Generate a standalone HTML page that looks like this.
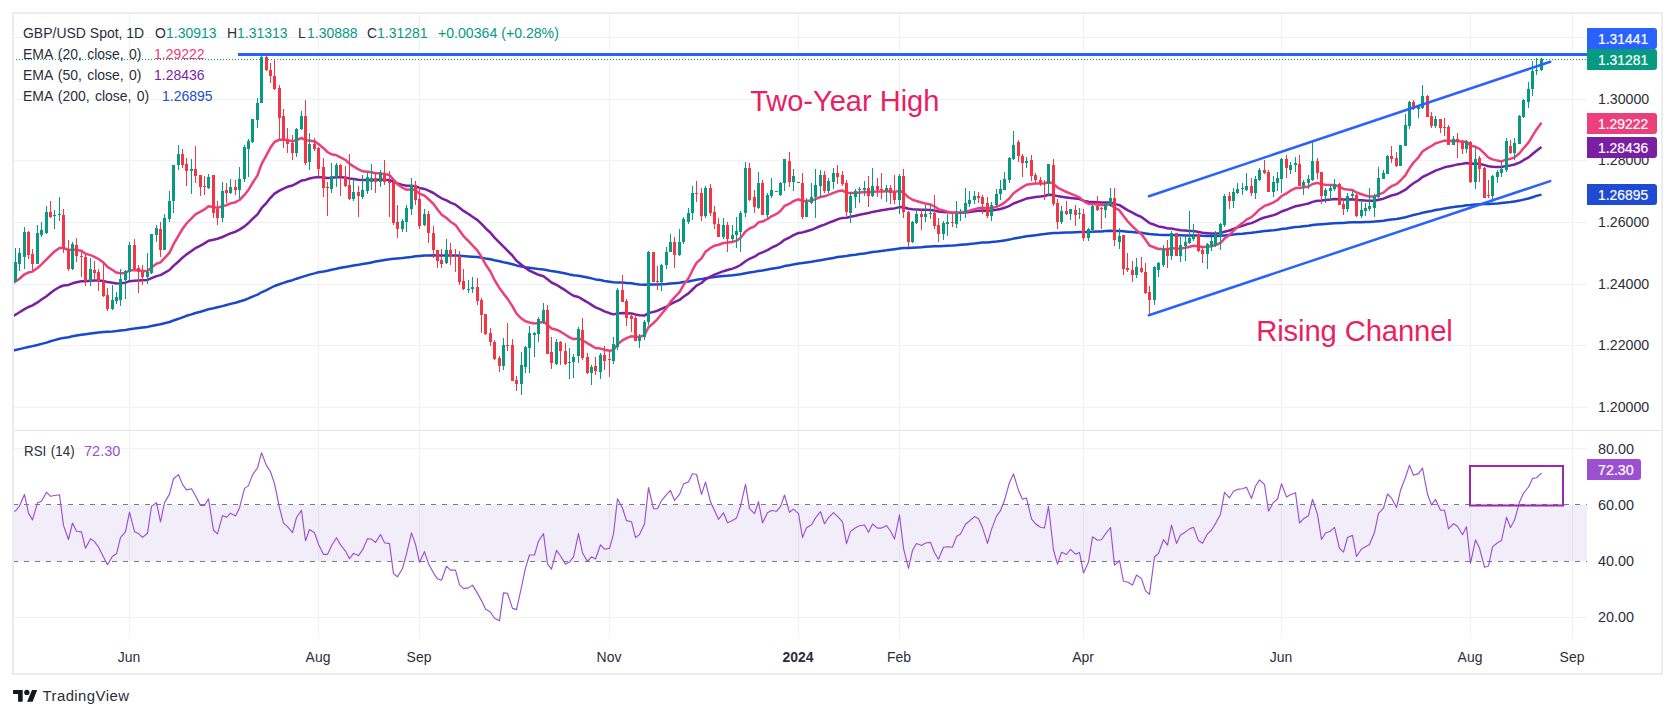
<!DOCTYPE html><html><head><meta charset="utf-8"><style>
html,body{margin:0;padding:0;background:#fff;width:1675px;height:718px;overflow:hidden;position:relative}
.t{position:absolute;white-space:pre;font-family:"Liberation Sans",sans-serif;line-height:1;color:#131722}
.lb{position:absolute;left:1587px;width:70px;height:21px;border-radius:0 3px 3px 0}
</style></head><body>
<svg width="1675" height="718" viewBox="0 0 1675 718" style="position:absolute;left:0;top:0">
<rect x="0" y="0" width="1675" height="718" fill="#ffffff"/>
<defs><clipPath id="cm"><rect x="13" y="13" width="1574" height="417"/></clipPath><clipPath id="cr"><rect x="13" y="431" width="1574" height="207"/></clipPath></defs>
<line x1="129.5" y1="13" x2="129.5" y2="638" stroke="#F0F2F2" stroke-width="1"/>
<line x1="318.5" y1="13" x2="318.5" y2="638" stroke="#F0F2F2" stroke-width="1"/>
<line x1="419.5" y1="13" x2="419.5" y2="638" stroke="#F0F2F2" stroke-width="1"/>
<line x1="609.5" y1="13" x2="609.5" y2="638" stroke="#F0F2F2" stroke-width="1"/>
<line x1="798.5" y1="13" x2="798.5" y2="638" stroke="#F0F2F2" stroke-width="1"/>
<line x1="899.5" y1="13" x2="899.5" y2="638" stroke="#F0F2F2" stroke-width="1"/>
<line x1="1083.5" y1="13" x2="1083.5" y2="638" stroke="#F0F2F2" stroke-width="1"/>
<line x1="1281.5" y1="13" x2="1281.5" y2="638" stroke="#F0F2F2" stroke-width="1"/>
<line x1="1470.5" y1="13" x2="1470.5" y2="638" stroke="#F0F2F2" stroke-width="1"/>
<line x1="1572.5" y1="13" x2="1572.5" y2="638" stroke="#F0F2F2" stroke-width="1"/>
<line x1="13" y1="37.5" x2="1587" y2="37.5" stroke="#F0F2F2" stroke-width="1"/>
<line x1="13" y1="99.5" x2="1587" y2="99.5" stroke="#F0F2F2" stroke-width="1"/>
<line x1="13" y1="160.5" x2="1587" y2="160.5" stroke="#F0F2F2" stroke-width="1"/>
<line x1="13" y1="222.5" x2="1587" y2="222.5" stroke="#F0F2F2" stroke-width="1"/>
<line x1="13" y1="284.5" x2="1587" y2="284.5" stroke="#F0F2F2" stroke-width="1"/>
<line x1="13" y1="345.5" x2="1587" y2="345.5" stroke="#F0F2F2" stroke-width="1"/>
<line x1="13" y1="407.5" x2="1587" y2="407.5" stroke="#F0F2F2" stroke-width="1"/>
<line x1="13" y1="448.5" x2="1587" y2="448.5" stroke="#F0F2F2" stroke-width="1"/>
<line x1="13" y1="617.5" x2="1587" y2="617.5" stroke="#F0F2F2" stroke-width="1"/>
<rect x="13" y="504.7" width="1574" height="56.3" fill="#7E57C2" fill-opacity="0.1"/>
<line x1="13" y1="504.5" x2="1587" y2="504.5" stroke="#787B86" stroke-width="1" stroke-dasharray="5 6"/>
<line x1="13" y1="561.5" x2="1587" y2="561.5" stroke="#787B86" stroke-width="1" stroke-dasharray="5 6"/>
<g clip-path="url(#cm)">
<polyline points="12.0,350.8 15.5,350.0 19.5,349.1 24.5,347.9 28.5,347.0 32.5,346.1 37.5,345.0 41.5,343.9 46.5,342.6 50.5,341.3 54.5,340.1 59.5,338.8 63.5,337.9 68.5,337.2 72.5,336.3 76.5,335.5 81.5,334.7 85.5,334.2 90.5,333.5 94.5,332.9 98.5,332.4 103.5,332.0 107.5,331.8 112.5,331.5 116.5,331.1 120.5,330.6 125.5,330.0 129.5,329.2 134.5,328.6 138.5,328.0 142.5,327.5 147.5,326.9 151.5,326.0 156.5,325.0 160.5,324.3 164.5,323.2 169.5,322.0 173.5,320.5 178.5,318.8 182.5,317.3 186.5,315.8 191.5,314.4 195.5,313.0 200.5,311.7 204.5,310.5 208.5,309.2 213.5,308.2 217.5,307.3 222.5,306.1 226.5,305.0 230.5,303.9 235.5,302.7 239.5,301.5 244.5,300.0 248.5,298.4 252.5,296.6 257.5,294.7 261.5,292.3 266.5,290.1 270.5,288.0 274.5,286.0 279.5,284.3 283.5,282.9 287.5,281.5 292.5,280.2 296.5,278.7 301.5,277.1 305.5,275.9 309.5,274.6 314.5,273.4 318.5,272.3 323.5,271.5 327.5,270.7 331.5,269.7 336.5,268.7 340.5,267.8 345.5,266.9 349.5,266.3 353.5,265.5 358.5,264.8 362.5,264.1 367.5,263.2 371.5,262.4 375.5,261.6 380.5,260.7 384.5,259.9 389.5,259.2 393.5,258.8 397.5,258.5 402.5,258.1 406.5,257.6 411.5,256.9 415.5,256.3 419.5,256.0 424.5,255.6 428.5,255.4 433.5,255.3 437.5,255.4 441.5,255.5 446.5,255.4 450.5,255.4 455.5,255.5 459.5,255.7 463.5,256.1 468.5,256.4 472.5,256.7 477.5,257.1 481.5,257.7 485.5,258.5 490.5,259.3 494.5,260.3 499.5,261.3 503.5,262.2 507.5,263.0 512.5,264.2 516.5,265.4 521.5,266.4 525.5,267.2 529.5,267.8 534.5,268.5 538.5,269.0 543.5,269.4 547.5,270.2 551.5,271.1 556.5,271.8 560.5,272.6 565.5,273.5 569.5,274.4 573.5,275.2 578.5,275.8 582.5,276.6 587.5,277.5 591.5,278.4 595.5,279.4 600.5,280.1 604.5,280.9 609.5,281.7 613.5,282.3 617.5,282.4 622.5,282.6 626.5,282.9 631.5,283.3 635.5,283.9 639.5,284.4 644.5,284.8 648.5,284.4 653.5,284.4 657.5,284.4 661.5,284.2 666.5,283.9 670.5,283.5 674.5,283.2 679.5,282.8 683.5,282.1 688.5,281.4 692.5,280.6 696.5,279.7 701.5,279.1 705.5,278.2 710.5,277.5 714.5,277.0 718.5,276.6 723.5,276.1 727.5,275.7 732.5,275.3 736.5,274.8 740.5,274.2 745.5,273.2 749.5,272.4 754.5,271.8 758.5,270.9 762.5,270.4 767.5,269.6 771.5,268.8 776.5,268.0 780.5,267.2 784.5,266.1 789.5,265.3 793.5,264.4 798.5,263.6 802.5,263.1 806.5,262.5 811.5,261.8 815.5,261.1 820.5,260.2 824.5,259.5 828.5,258.8 833.5,257.9 837.5,257.1 842.5,256.4 846.5,255.9 850.5,255.3 855.5,254.7 859.5,254.0 864.5,253.4 868.5,252.8 872.5,252.1 877.5,251.5 881.5,250.9 886.5,250.3 890.5,249.7 894.5,249.2 899.5,248.5 903.5,248.1 908.5,248.1 912.5,247.8 916.5,247.5 921.5,247.2 925.5,246.8 930.5,246.5 934.5,246.3 938.5,246.2 943.5,245.9 947.5,245.7 952.5,245.5 956.5,245.2 960.5,244.8 965.5,244.4 969.5,244.0 974.5,243.5 978.5,243.0 982.5,242.6 987.5,242.4 991.5,242.0 996.5,241.5 1000.5,241.0 1004.5,240.4 1009.5,239.6 1013.5,238.6 1018.5,237.8 1022.5,237.1 1026.5,236.3 1031.5,235.7 1035.5,235.2 1040.5,234.6 1044.5,234.1 1048.5,233.4 1053.5,233.1 1057.5,233.0 1061.5,232.8 1066.5,232.6 1070.5,232.4 1075.5,232.2 1079.5,232.0 1083.5,232.1 1088.5,232.1 1092.5,231.8 1097.5,231.6 1101.5,231.4 1105.5,231.1 1110.5,230.8 1114.5,230.9 1119.5,230.9 1123.5,231.3 1127.5,231.7 1132.5,232.1 1136.5,232.5 1141.5,232.8 1145.5,233.4 1149.5,234.1 1154.5,234.4 1158.5,234.7 1163.5,234.9 1167.5,235.1 1171.5,235.0 1176.5,235.2 1180.5,235.3 1185.5,235.4 1189.5,235.4 1193.5,235.4 1198.5,235.6 1202.5,235.8 1207.5,235.9 1211.5,235.9 1215.5,235.9 1220.5,235.8 1224.5,235.4 1229.5,235.0 1233.5,234.6 1237.5,234.1 1242.5,233.7 1246.5,233.2 1251.5,232.8 1255.5,232.3 1259.5,231.7 1264.5,231.1 1268.5,230.7 1273.5,230.2 1277.5,229.7 1281.5,229.0 1286.5,228.4 1290.5,227.7 1295.5,227.1 1299.5,226.7 1303.5,226.2 1308.5,225.8 1312.5,225.1 1317.5,224.6 1321.5,224.3 1325.5,224.0 1330.5,223.6 1334.5,223.2 1339.5,223.0 1343.5,222.9 1347.5,222.6 1352.5,222.3 1356.5,222.3 1361.5,222.2 1365.5,222.0 1369.5,221.9 1374.5,221.6 1378.5,221.2 1383.5,220.7 1387.5,220.0 1391.5,219.4 1396.5,218.9 1400.5,218.2 1405.5,217.2 1409.5,216.1 1413.5,215.0 1418.5,213.9 1422.5,212.8 1427.5,211.8 1431.5,211.0 1435.5,210.0 1440.5,209.2 1444.5,208.4 1448.5,207.8 1453.5,207.1 1457.5,206.4 1462.5,205.9 1466.5,205.2 1470.5,205.0 1475.5,204.5 1479.5,204.2 1484.5,204.1 1488.5,204.1 1492.5,203.8 1497.5,203.5 1501.5,203.1 1506.5,202.5 1510.5,202.0 1514.5,201.4 1519.5,200.6 1523.5,199.6 1528.5,198.5 1532.5,197.2 1536.5,195.9 1541.5,194.6" fill="none" stroke="#1848CC" stroke-width="2.5" stroke-linejoin="round"/>
<polyline points="12.0,316.6 15.5,314.7 19.5,312.2 24.5,309.1 28.5,307.0 32.5,305.3 37.5,302.4 41.5,299.6 46.5,296.2 50.5,293.1 54.5,290.0 59.5,287.0 63.5,285.5 68.5,284.9 72.5,283.3 76.5,282.2 81.5,281.2 85.5,281.2 90.5,280.7 94.5,280.4 98.5,280.4 103.5,281.0 107.5,282.1 112.5,282.8 116.5,283.4 120.5,283.2 125.5,282.7 129.5,281.2 134.5,280.7 138.5,280.4 142.5,280.2 147.5,279.9 151.5,278.1 156.5,276.1 160.5,275.1 164.5,272.9 169.5,270.0 173.5,265.9 178.5,261.5 182.5,257.7 186.5,254.4 191.5,251.0 195.5,248.1 200.5,245.7 204.5,243.4 208.5,240.8 213.5,239.7 217.5,238.8 222.5,237.0 226.5,235.2 230.5,233.4 235.5,231.7 239.5,229.6 244.5,226.4 248.5,223.0 252.5,218.9 257.5,214.4 261.5,208.2 266.5,202.8 270.5,197.8 274.5,193.6 279.5,190.6 283.5,188.6 287.5,186.8 292.5,185.5 296.5,183.3 301.5,180.6 305.5,179.9 309.5,178.5 314.5,177.4 318.5,177.1 323.5,177.5 327.5,177.9 331.5,177.8 336.5,177.3 340.5,177.3 345.5,177.6 349.5,178.4 353.5,179.0 358.5,179.7 362.5,180.0 367.5,179.9 371.5,179.8 375.5,179.9 380.5,179.6 384.5,179.8 389.5,179.9 393.5,181.6 397.5,183.4 402.5,184.9 406.5,185.8 411.5,185.8 415.5,186.3 419.5,187.9 424.5,188.9 428.5,190.6 433.5,193.0 437.5,195.7 441.5,198.3 446.5,200.4 450.5,202.6 455.5,204.7 459.5,207.7 463.5,210.9 468.5,214.0 472.5,216.8 477.5,220.1 481.5,223.9 485.5,228.2 490.5,232.7 494.5,237.6 499.5,242.6 503.5,246.7 507.5,250.6 512.5,255.7 516.5,260.7 521.5,264.8 525.5,268.0 529.5,270.6 534.5,273.0 538.5,274.8 543.5,276.2 547.5,279.2 551.5,282.5 556.5,284.8 560.5,287.4 565.5,290.4 569.5,293.2 573.5,295.7 578.5,297.0 582.5,299.4 587.5,302.3 591.5,304.9 595.5,307.4 600.5,309.3 604.5,311.3 609.5,313.2 613.5,314.4 617.5,313.5 622.5,313.0 626.5,313.2 631.5,313.4 635.5,314.5 639.5,315.3 644.5,315.6 648.5,313.1 653.5,311.9 657.5,310.7 661.5,308.9 666.5,306.7 670.5,304.2 674.5,302.2 679.5,299.9 683.5,296.7 688.5,293.4 692.5,289.5 696.5,285.7 701.5,283.0 705.5,279.3 710.5,276.7 714.5,274.6 718.5,273.1 723.5,271.2 727.5,270.0 732.5,268.6 736.5,267.1 740.5,265.0 745.5,261.2 749.5,258.8 754.5,256.7 758.5,253.9 762.5,252.3 767.5,250.1 771.5,247.7 776.5,245.5 780.5,243.0 784.5,239.8 789.5,237.5 793.5,235.1 798.5,233.0 802.5,232.4 806.5,231.2 811.5,229.8 815.5,228.1 820.5,226.0 824.5,224.6 828.5,222.9 833.5,221.0 837.5,219.3 842.5,217.9 846.5,217.7 850.5,216.8 855.5,215.8 859.5,214.7 864.5,213.7 868.5,213.0 872.5,211.9 877.5,211.1 881.5,210.3 886.5,209.4 890.5,208.7 894.5,208.4 899.5,207.1 903.5,207.3 908.5,208.7 912.5,209.2 916.5,209.4 921.5,209.7 925.5,209.8 930.5,210.0 934.5,210.6 938.5,211.5 943.5,211.9 947.5,212.3 952.5,212.8 956.5,212.8 960.5,212.8 965.5,212.4 969.5,211.9 974.5,211.3 978.5,210.7 982.5,210.5 987.5,210.7 991.5,210.4 996.5,209.8 1000.5,209.0 1004.5,207.8 1009.5,205.8 1013.5,203.5 1018.5,201.6 1022.5,200.1 1026.5,198.6 1031.5,197.7 1035.5,197.0 1040.5,196.5 1044.5,196.0 1048.5,194.7 1053.5,195.1 1057.5,196.1 1061.5,196.7 1066.5,197.4 1070.5,197.9 1075.5,198.5 1079.5,199.1 1083.5,200.6 1088.5,201.8 1092.5,201.9 1097.5,202.2 1101.5,202.5 1105.5,202.6 1110.5,202.4 1114.5,203.9 1119.5,205.1 1123.5,207.6 1127.5,210.1 1132.5,212.6 1136.5,214.8 1141.5,217.0 1145.5,220.0 1149.5,223.1 1154.5,224.8 1158.5,226.4 1163.5,227.2 1167.5,228.4 1171.5,228.5 1176.5,229.6 1180.5,230.2 1185.5,230.6 1189.5,230.9 1193.5,231.1 1198.5,231.9 1202.5,232.8 1207.5,233.2 1211.5,233.5 1215.5,233.5 1220.5,233.2 1224.5,231.7 1229.5,230.5 1233.5,229.0 1237.5,227.4 1242.5,225.8 1246.5,224.3 1251.5,223.1 1255.5,221.3 1259.5,219.3 1264.5,217.5 1268.5,216.5 1273.5,215.1 1277.5,213.7 1281.5,211.5 1286.5,209.8 1290.5,208.1 1295.5,206.3 1299.5,205.5 1303.5,204.6 1308.5,203.5 1312.5,201.9 1317.5,200.7 1321.5,200.5 1325.5,200.1 1330.5,199.6 1334.5,199.0 1339.5,199.3 1343.5,199.6 1347.5,199.5 1352.5,199.3 1356.5,200.0 1361.5,200.3 1365.5,200.6 1369.5,200.8 1374.5,200.7 1378.5,199.8 1383.5,198.7 1387.5,197.0 1391.5,195.5 1396.5,194.3 1400.5,192.4 1405.5,189.7 1409.5,186.3 1413.5,183.3 1418.5,180.3 1422.5,177.0 1427.5,174.6 1431.5,172.7 1435.5,170.6 1440.5,168.9 1444.5,167.3 1448.5,166.4 1453.5,165.4 1457.5,164.4 1462.5,163.8 1466.5,163.0 1470.5,163.7 1475.5,163.5 1479.5,163.8 1484.5,165.1 1488.5,166.3 1492.5,166.7 1497.5,166.9 1501.5,167.0 1506.5,165.9 1510.5,165.4 1514.5,164.5 1519.5,162.6 1523.5,160.2 1528.5,157.4 1532.5,154.0 1536.5,150.7 1541.5,147.1" fill="none" stroke="#7B1FA2" stroke-width="2.5" stroke-linejoin="round"/>
<polyline points="12.0,283.6 15.5,281.5 19.5,278.8 24.5,274.3 28.5,272.5 32.5,271.6 37.5,268.0 41.5,264.4 46.5,259.4 50.5,255.3 54.5,251.5 59.5,247.9 63.5,248.0 68.5,250.0 72.5,249.5 76.5,250.1 81.5,250.7 85.5,253.7 90.5,255.1 94.5,256.8 98.5,259.0 103.5,262.6 107.5,266.9 112.5,270.0 116.5,272.6 120.5,273.2 125.5,273.0 129.5,270.3 134.5,270.2 138.5,270.3 142.5,270.9 147.5,271.0 151.5,267.5 156.5,263.7 160.5,262.4 164.5,258.2 169.5,252.7 173.5,244.4 178.5,235.7 182.5,229.0 186.5,223.5 191.5,218.3 195.5,214.3 200.5,211.7 204.5,209.4 208.5,206.3 213.5,206.9 217.5,207.9 222.5,206.3 226.5,205.1 230.5,203.4 235.5,202.2 239.5,200.0 244.5,194.9 248.5,189.8 252.5,183.0 257.5,175.4 261.5,164.1 266.5,155.1 270.5,147.6 274.5,142.0 279.5,139.7 283.5,139.7 287.5,140.1 292.5,141.3 296.5,140.1 301.5,137.9 305.5,140.2 309.5,140.6 314.5,141.4 318.5,144.0 323.5,148.2 327.5,152.0 331.5,154.3 336.5,155.3 340.5,157.3 345.5,160.0 349.5,163.7 353.5,166.4 358.5,169.3 362.5,171.2 367.5,171.8 371.5,172.3 375.5,173.2 380.5,173.2 384.5,174.1 389.5,175.0 393.5,179.6 397.5,184.2 402.5,187.8 406.5,189.7 411.5,189.2 415.5,190.2 419.5,193.6 424.5,195.6 428.5,199.2 433.5,204.0 437.5,209.5 441.5,214.6 446.5,218.0 450.5,221.7 455.5,225.0 459.5,230.5 463.5,236.1 468.5,241.1 472.5,245.4 477.5,250.7 481.5,256.9 485.5,264.2 490.5,271.7 494.5,280.0 499.5,288.2 503.5,293.6 507.5,298.6 512.5,306.4 516.5,313.7 521.5,318.6 525.5,321.3 529.5,322.5 534.5,323.5 538.5,323.0 543.5,321.8 547.5,324.8 551.5,328.5 556.5,329.7 560.5,331.7 565.5,334.8 569.5,337.4 573.5,339.2 578.5,338.3 582.5,340.2 587.5,343.3 591.5,345.6 595.5,348.0 600.5,348.6 604.5,349.8 609.5,350.8 613.5,350.1 617.5,344.4 622.5,340.3 626.5,338.1 631.5,336.3 635.5,336.7 639.5,336.7 644.5,335.3 648.5,327.3 653.5,323.0 657.5,319.1 661.5,314.0 666.5,308.1 670.5,301.8 674.5,297.3 679.5,292.1 683.5,285.1 688.5,278.3 692.5,270.2 696.5,262.9 701.5,258.4 705.5,251.7 710.5,248.0 714.5,245.7 718.5,244.8 723.5,243.0 727.5,242.6 732.5,241.9 736.5,240.8 740.5,238.1 745.5,231.5 749.5,228.5 754.5,226.4 758.5,222.3 762.5,221.6 767.5,219.0 771.5,216.3 776.5,213.9 780.5,210.9 784.5,206.0 789.5,203.7 793.5,201.1 798.5,199.3 802.5,201.0 806.5,201.1 811.5,200.6 815.5,199.2 820.5,196.9 824.5,196.3 828.5,194.8 833.5,192.8 837.5,191.3 842.5,190.6 846.5,192.7 850.5,193.0 855.5,192.9 859.5,192.4 864.5,192.0 868.5,192.3 872.5,191.8 877.5,191.6 881.5,191.5 886.5,191.2 890.5,191.3 894.5,192.1 899.5,190.6 903.5,192.7 908.5,197.3 912.5,199.7 916.5,201.0 921.5,202.5 925.5,203.6 930.5,204.5 934.5,206.5 938.5,209.1 943.5,210.4 947.5,211.6 952.5,212.7 956.5,212.8 960.5,212.6 965.5,211.7 969.5,210.6 974.5,209.2 978.5,208.1 982.5,207.7 987.5,208.5 991.5,208.1 996.5,206.8 1000.5,205.1 1004.5,202.6 1009.5,198.3 1013.5,193.3 1018.5,189.7 1022.5,187.1 1026.5,184.7 1031.5,183.9 1035.5,183.6 1040.5,183.5 1044.5,183.5 1048.5,181.7 1053.5,183.8 1057.5,187.5 1061.5,189.7 1066.5,192.0 1070.5,193.7 1075.5,195.7 1079.5,197.4 1083.5,201.2 1088.5,203.9 1092.5,204.1 1097.5,204.6 1101.5,205.1 1105.5,205.0 1110.5,204.3 1114.5,207.7 1119.5,210.4 1123.5,216.0 1127.5,221.1 1132.5,226.3 1136.5,230.1 1141.5,234.2 1145.5,239.8 1149.5,245.5 1154.5,247.5 1158.5,249.0 1163.5,249.0 1167.5,249.7 1171.5,248.0 1176.5,248.7 1180.5,248.4 1185.5,247.8 1189.5,246.8 1193.5,245.8 1198.5,246.3 1202.5,247.0 1207.5,246.7 1211.5,246.2 1215.5,245.0 1220.5,243.0 1224.5,238.6 1229.5,235.0 1233.5,230.8 1237.5,226.8 1242.5,223.1 1246.5,219.6 1251.5,217.1 1255.5,213.5 1259.5,209.4 1264.5,205.9 1268.5,204.5 1273.5,202.4 1277.5,200.0 1281.5,196.1 1286.5,193.4 1290.5,190.7 1295.5,188.1 1299.5,187.9 1303.5,187.3 1308.5,186.5 1312.5,184.0 1317.5,182.9 1321.5,184.2 1325.5,184.7 1330.5,185.0 1334.5,185.0 1339.5,186.8 1343.5,188.9 1347.5,189.6 1352.5,190.1 1356.5,192.5 1361.5,194.2 1365.5,195.5 1369.5,196.5 1374.5,196.5 1378.5,194.7 1383.5,192.6 1387.5,189.1 1391.5,186.2 1396.5,184.2 1400.5,180.5 1405.5,175.2 1409.5,168.2 1413.5,162.6 1418.5,157.3 1422.5,151.5 1427.5,148.1 1431.5,146.0 1435.5,143.4 1440.5,141.9 1444.5,140.6 1448.5,141.0 1453.5,140.8 1457.5,140.9 1462.5,141.7 1466.5,141.7 1470.5,145.6 1475.5,146.8 1479.5,148.9 1484.5,153.6 1488.5,157.7 1492.5,159.4 1497.5,160.6 1501.5,161.4 1506.5,159.4 1510.5,158.8 1514.5,157.3 1519.5,153.3 1523.5,148.3 1528.5,142.6 1532.5,135.8 1536.5,129.5 1541.5,122.8" fill="none" stroke="#EC407A" stroke-width="2.5" stroke-linejoin="round"/>
<g shape-rendering="crispEdges">
<rect x="15" y="247.9" width="1" height="34.4" fill="#089981"/>
<rect x="14" y="262.0" width="3" height="20.3" fill="#089981"/>
<rect x="19" y="247.9" width="1" height="23.5" fill="#089981"/>
<rect x="18" y="253.3" width="3" height="10.5" fill="#089981"/>
<rect x="24" y="227.1" width="1" height="41.6" fill="#089981"/>
<rect x="23" y="232.0" width="3" height="25.0" fill="#089981"/>
<rect x="28" y="230.7" width="1" height="28.1" fill="#F23645"/>
<rect x="27" y="231.6" width="3" height="23.2" fill="#F23645"/>
<rect x="32" y="248.8" width="1" height="22.6" fill="#F23645"/>
<rect x="31" y="253.7" width="3" height="10.1" fill="#F23645"/>
<rect x="37" y="225.3" width="1" height="38.9" fill="#089981"/>
<rect x="36" y="233.1" width="3" height="30.8" fill="#089981"/>
<rect x="41" y="222.2" width="1" height="15.2" fill="#089981"/>
<rect x="40" y="230.2" width="3" height="4.7" fill="#089981"/>
<rect x="46" y="205.9" width="1" height="27.9" fill="#089981"/>
<rect x="45" y="212.1" width="3" height="20.5" fill="#089981"/>
<rect x="50" y="200.9" width="1" height="17.2" fill="#F23645"/>
<rect x="49" y="212.1" width="3" height="4.7" fill="#F23645"/>
<rect x="54" y="209.9" width="1" height="19.0" fill="#089981"/>
<rect x="53" y="215.3" width="3" height="1.0" fill="#089981"/>
<rect x="59" y="196.9" width="1" height="23.9" fill="#089981"/>
<rect x="58" y="213.9" width="3" height="1.4" fill="#089981"/>
<rect x="63" y="209.0" width="1" height="44.3" fill="#F23645"/>
<rect x="62" y="215.3" width="3" height="33.5" fill="#F23645"/>
<rect x="68" y="240.3" width="1" height="30.2" fill="#F23645"/>
<rect x="67" y="249.4" width="3" height="19.4" fill="#F23645"/>
<rect x="72" y="242.1" width="1" height="27.5" fill="#089981"/>
<rect x="71" y="244.3" width="3" height="24.4" fill="#089981"/>
<rect x="76" y="238.0" width="1" height="24.4" fill="#F23645"/>
<rect x="75" y="245.2" width="3" height="10.9" fill="#F23645"/>
<rect x="81" y="251.5" width="1" height="25.3" fill="#F23645"/>
<rect x="80" y="256.0" width="3" height="1.0" fill="#F23645"/>
<rect x="85" y="254.3" width="1" height="31.7" fill="#F23645"/>
<rect x="84" y="257.0" width="3" height="24.4" fill="#F23645"/>
<rect x="90" y="258.4" width="1" height="27.1" fill="#089981"/>
<rect x="89" y="268.7" width="3" height="12.7" fill="#089981"/>
<rect x="94" y="261.0" width="1" height="17.7" fill="#F23645"/>
<rect x="93" y="269.6" width="3" height="3.3" fill="#F23645"/>
<rect x="98" y="268.7" width="1" height="22.6" fill="#F23645"/>
<rect x="97" y="272.4" width="3" height="8.1" fill="#F23645"/>
<rect x="103" y="262.4" width="1" height="34.4" fill="#F23645"/>
<rect x="102" y="280.5" width="3" height="15.4" fill="#F23645"/>
<rect x="107" y="287.7" width="1" height="23.5" fill="#F23645"/>
<rect x="106" y="295.0" width="3" height="13.6" fill="#F23645"/>
<rect x="112" y="284.5" width="1" height="25.9" fill="#089981"/>
<rect x="111" y="299.5" width="3" height="9.0" fill="#089981"/>
<rect x="116" y="292.3" width="1" height="11.8" fill="#089981"/>
<rect x="115" y="296.8" width="3" height="4.5" fill="#089981"/>
<rect x="120" y="268.7" width="1" height="37.1" fill="#089981"/>
<rect x="119" y="278.7" width="3" height="21.7" fill="#089981"/>
<rect x="125" y="269.6" width="1" height="29.0" fill="#089981"/>
<rect x="124" y="271.4" width="3" height="8.1" fill="#089981"/>
<rect x="129" y="241.5" width="1" height="38.8" fill="#089981"/>
<rect x="128" y="244.8" width="3" height="26.8" fill="#089981"/>
<rect x="134" y="239.0" width="1" height="31.3" fill="#F23645"/>
<rect x="133" y="245.3" width="3" height="23.8" fill="#F23645"/>
<rect x="138" y="265.3" width="1" height="27.6" fill="#F23645"/>
<rect x="137" y="267.8" width="3" height="3.8" fill="#F23645"/>
<rect x="142" y="265.3" width="1" height="20.1" fill="#F23645"/>
<rect x="141" y="271.6" width="3" height="5.0" fill="#F23645"/>
<rect x="147" y="252.8" width="1" height="31.3" fill="#089981"/>
<rect x="146" y="271.6" width="3" height="5.0" fill="#089981"/>
<rect x="151" y="234.0" width="1" height="40.1" fill="#089981"/>
<rect x="150" y="234.0" width="3" height="39.3" fill="#089981"/>
<rect x="156" y="224.7" width="1" height="16.8" fill="#089981"/>
<rect x="155" y="227.7" width="3" height="7.5" fill="#089981"/>
<rect x="160" y="222.2" width="1" height="34.3" fill="#F23645"/>
<rect x="159" y="229.0" width="3" height="21.3" fill="#F23645"/>
<rect x="164" y="214.0" width="1" height="35.8" fill="#089981"/>
<rect x="163" y="217.7" width="3" height="32.1" fill="#089981"/>
<rect x="169" y="191.4" width="1" height="30.1" fill="#089981"/>
<rect x="168" y="200.9" width="3" height="18.0" fill="#089981"/>
<rect x="173" y="165.1" width="1" height="47.6" fill="#089981"/>
<rect x="172" y="165.1" width="3" height="36.3" fill="#089981"/>
<rect x="178" y="145.0" width="1" height="24.6" fill="#089981"/>
<rect x="177" y="153.8" width="3" height="11.3" fill="#089981"/>
<rect x="182" y="148.8" width="1" height="18.8" fill="#F23645"/>
<rect x="181" y="153.8" width="3" height="11.3" fill="#F23645"/>
<rect x="186" y="157.6" width="1" height="28.8" fill="#F23645"/>
<rect x="185" y="163.8" width="3" height="7.5" fill="#F23645"/>
<rect x="191" y="158.8" width="1" height="35.1" fill="#089981"/>
<rect x="190" y="168.8" width="3" height="2.5" fill="#089981"/>
<rect x="195" y="146.3" width="1" height="36.3" fill="#F23645"/>
<rect x="194" y="168.8" width="3" height="7.5" fill="#F23645"/>
<rect x="200" y="175.3" width="1" height="20.2" fill="#F23645"/>
<rect x="199" y="175.3" width="3" height="11.8" fill="#F23645"/>
<rect x="204" y="176.0" width="1" height="18.8" fill="#F23645"/>
<rect x="203" y="185.7" width="3" height="1.4" fill="#F23645"/>
<rect x="208" y="174.1" width="1" height="15.0" fill="#089981"/>
<rect x="207" y="176.6" width="3" height="11.3" fill="#089981"/>
<rect x="213" y="175.3" width="1" height="42.6" fill="#F23645"/>
<rect x="212" y="175.3" width="3" height="37.6" fill="#F23645"/>
<rect x="217" y="201.0" width="1" height="23.7" fill="#F23645"/>
<rect x="216" y="209.4" width="3" height="8.3" fill="#F23645"/>
<rect x="222" y="182.2" width="1" height="39.7" fill="#089981"/>
<rect x="221" y="191.3" width="3" height="26.4" fill="#089981"/>
<rect x="226" y="182.9" width="1" height="20.1" fill="#F23645"/>
<rect x="225" y="190.4" width="3" height="3.0" fill="#F23645"/>
<rect x="230" y="179.1" width="1" height="15.0" fill="#089981"/>
<rect x="229" y="187.4" width="3" height="6.0" fill="#089981"/>
<rect x="235" y="180.4" width="1" height="15.0" fill="#F23645"/>
<rect x="234" y="187.4" width="3" height="3.0" fill="#F23645"/>
<rect x="239" y="166.6" width="1" height="32.4" fill="#089981"/>
<rect x="238" y="179.1" width="3" height="11.3" fill="#089981"/>
<rect x="244" y="145.3" width="1" height="36.3" fill="#089981"/>
<rect x="243" y="146.5" width="3" height="32.6" fill="#089981"/>
<rect x="248" y="139.0" width="1" height="37.6" fill="#089981"/>
<rect x="247" y="141.1" width="3" height="7.7" fill="#089981"/>
<rect x="252" y="118.9" width="1" height="23.8" fill="#089981"/>
<rect x="251" y="118.9" width="3" height="22.6" fill="#089981"/>
<rect x="257" y="97.6" width="1" height="30.1" fill="#089981"/>
<rect x="256" y="102.7" width="3" height="17.5" fill="#089981"/>
<rect x="261" y="55.5" width="1" height="47.1" fill="#089981"/>
<rect x="260" y="57.0" width="3" height="45.6" fill="#089981"/>
<rect x="266" y="55.5" width="1" height="15.8" fill="#F23645"/>
<rect x="265" y="57.0" width="3" height="13.0" fill="#F23645"/>
<rect x="270" y="62.6" width="1" height="20.0" fill="#F23645"/>
<rect x="269" y="70.1" width="3" height="6.3" fill="#F23645"/>
<rect x="274" y="59.5" width="1" height="30.6" fill="#F23645"/>
<rect x="273" y="76.3" width="3" height="12.5" fill="#F23645"/>
<rect x="279" y="85.1" width="1" height="53.4" fill="#F23645"/>
<rect x="278" y="87.6" width="3" height="30.1" fill="#F23645"/>
<rect x="283" y="108.9" width="1" height="38.8" fill="#F23645"/>
<rect x="282" y="116.4" width="3" height="22.6" fill="#F23645"/>
<rect x="287" y="127.7" width="1" height="25.1" fill="#F23645"/>
<rect x="286" y="139.0" width="3" height="5.0" fill="#F23645"/>
<rect x="292" y="135.2" width="1" height="25.1" fill="#F23645"/>
<rect x="291" y="142.8" width="3" height="10.0" fill="#F23645"/>
<rect x="296" y="127.7" width="1" height="28.8" fill="#089981"/>
<rect x="295" y="129.0" width="3" height="23.8" fill="#089981"/>
<rect x="301" y="111.4" width="1" height="18.8" fill="#089981"/>
<rect x="300" y="116.4" width="3" height="12.5" fill="#089981"/>
<rect x="305" y="100.2" width="1" height="65.2" fill="#F23645"/>
<rect x="304" y="116.4" width="3" height="46.4" fill="#F23645"/>
<rect x="309" y="132.7" width="1" height="37.6" fill="#089981"/>
<rect x="308" y="144.0" width="3" height="17.5" fill="#089981"/>
<rect x="314" y="138.1" width="1" height="12.7" fill="#F23645"/>
<rect x="313" y="143.5" width="3" height="5.8" fill="#F23645"/>
<rect x="318" y="147.1" width="1" height="29.9" fill="#F23645"/>
<rect x="317" y="148.1" width="3" height="20.8" fill="#F23645"/>
<rect x="323" y="158.0" width="1" height="38.9" fill="#F23645"/>
<rect x="322" y="167.1" width="3" height="20.8" fill="#F23645"/>
<rect x="327" y="182.4" width="1" height="33.5" fill="#F23645"/>
<rect x="326" y="186.9" width="3" height="1.0" fill="#F23645"/>
<rect x="331" y="163.1" width="1" height="30.2" fill="#089981"/>
<rect x="330" y="176.1" width="3" height="12.7" fill="#089981"/>
<rect x="336" y="163.4" width="1" height="23.5" fill="#089981"/>
<rect x="335" y="164.9" width="3" height="12.1" fill="#089981"/>
<rect x="340" y="164.3" width="1" height="31.7" fill="#F23645"/>
<rect x="339" y="164.9" width="3" height="11.2" fill="#F23645"/>
<rect x="345" y="166.2" width="1" height="20.8" fill="#F23645"/>
<rect x="344" y="177.0" width="3" height="9.0" fill="#F23645"/>
<rect x="349" y="154.4" width="1" height="45.2" fill="#F23645"/>
<rect x="348" y="185.2" width="3" height="13.6" fill="#F23645"/>
<rect x="353" y="178.8" width="1" height="22.6" fill="#089981"/>
<rect x="352" y="192.4" width="3" height="6.3" fill="#089981"/>
<rect x="358" y="186.1" width="1" height="30.8" fill="#F23645"/>
<rect x="357" y="192.4" width="3" height="3.6" fill="#F23645"/>
<rect x="362" y="175.2" width="1" height="23.5" fill="#089981"/>
<rect x="361" y="189.7" width="3" height="7.2" fill="#089981"/>
<rect x="367" y="171.6" width="1" height="22.6" fill="#089981"/>
<rect x="366" y="177.0" width="3" height="13.6" fill="#089981"/>
<rect x="371" y="164.3" width="1" height="25.3" fill="#089981"/>
<rect x="370" y="177.6" width="3" height="4.0" fill="#089981"/>
<rect x="375" y="171.6" width="1" height="21.7" fill="#F23645"/>
<rect x="374" y="177.6" width="3" height="4.0" fill="#F23645"/>
<rect x="380" y="170.3" width="1" height="16.7" fill="#089981"/>
<rect x="379" y="173.4" width="3" height="8.1" fill="#089981"/>
<rect x="384" y="159.8" width="1" height="25.0" fill="#F23645"/>
<rect x="383" y="173.4" width="3" height="9.0" fill="#F23645"/>
<rect x="389" y="170.7" width="1" height="46.2" fill="#F23645"/>
<rect x="388" y="180.6" width="3" height="2.7" fill="#F23645"/>
<rect x="393" y="182.4" width="1" height="42.5" fill="#F23645"/>
<rect x="392" y="182.4" width="3" height="40.7" fill="#F23645"/>
<rect x="397" y="205.1" width="1" height="32.6" fill="#F23645"/>
<rect x="396" y="222.3" width="3" height="6.3" fill="#F23645"/>
<rect x="402" y="219.2" width="1" height="13.0" fill="#089981"/>
<rect x="401" y="221.4" width="3" height="7.2" fill="#089981"/>
<rect x="406" y="205.1" width="1" height="27.1" fill="#089981"/>
<rect x="405" y="207.8" width="3" height="14.5" fill="#089981"/>
<rect x="411" y="177.6" width="1" height="37.5" fill="#089981"/>
<rect x="410" y="185.2" width="3" height="23.5" fill="#089981"/>
<rect x="415" y="180.6" width="1" height="24.4" fill="#F23645"/>
<rect x="414" y="185.2" width="3" height="14.5" fill="#F23645"/>
<rect x="419" y="187.0" width="1" height="41.6" fill="#F23645"/>
<rect x="418" y="198.7" width="3" height="27.1" fill="#F23645"/>
<rect x="424" y="208.7" width="1" height="17.2" fill="#089981"/>
<rect x="423" y="214.1" width="3" height="10.9" fill="#089981"/>
<rect x="428" y="211.4" width="1" height="31.7" fill="#F23645"/>
<rect x="427" y="214.1" width="3" height="19.0" fill="#F23645"/>
<rect x="433" y="226.4" width="1" height="31.2" fill="#F23645"/>
<rect x="432" y="233.1" width="3" height="17.2" fill="#F23645"/>
<rect x="437" y="250.3" width="1" height="18.1" fill="#F23645"/>
<rect x="436" y="250.3" width="3" height="10.9" fill="#F23645"/>
<rect x="441" y="248.5" width="1" height="19.0" fill="#F23645"/>
<rect x="440" y="260.3" width="3" height="3.6" fill="#F23645"/>
<rect x="446" y="238.5" width="1" height="25.4" fill="#089981"/>
<rect x="445" y="250.3" width="3" height="13.0" fill="#089981"/>
<rect x="450" y="243.0" width="1" height="21.7" fill="#F23645"/>
<rect x="449" y="250.3" width="3" height="6.3" fill="#F23645"/>
<rect x="455" y="249.4" width="1" height="22.6" fill="#F23645"/>
<rect x="454" y="255.7" width="3" height="1.0" fill="#F23645"/>
<rect x="459" y="251.2" width="1" height="33.5" fill="#F23645"/>
<rect x="458" y="256.1" width="3" height="25.9" fill="#F23645"/>
<rect x="463" y="269.3" width="1" height="20.5" fill="#F23645"/>
<rect x="462" y="281.1" width="3" height="8.2" fill="#F23645"/>
<rect x="468" y="280.2" width="1" height="12.7" fill="#089981"/>
<rect x="467" y="288.7" width="3" height="1.1" fill="#089981"/>
<rect x="472" y="276.6" width="1" height="16.3" fill="#089981"/>
<rect x="471" y="286.5" width="3" height="2.2" fill="#089981"/>
<rect x="477" y="277.5" width="1" height="27.2" fill="#F23645"/>
<rect x="476" y="286.5" width="3" height="14.5" fill="#F23645"/>
<rect x="481" y="298.1" width="1" height="35.3" fill="#F23645"/>
<rect x="480" y="299.9" width="3" height="15.4" fill="#F23645"/>
<rect x="485" y="313.5" width="1" height="21.7" fill="#F23645"/>
<rect x="484" y="314.4" width="3" height="19.9" fill="#F23645"/>
<rect x="490" y="328.0" width="1" height="18.1" fill="#F23645"/>
<rect x="489" y="333.0" width="3" height="9.4" fill="#F23645"/>
<rect x="494" y="339.7" width="1" height="19.9" fill="#F23645"/>
<rect x="493" y="341.6" width="3" height="17.2" fill="#F23645"/>
<rect x="499" y="356.1" width="1" height="16.3" fill="#F23645"/>
<rect x="498" y="357.9" width="3" height="8.2" fill="#F23645"/>
<rect x="503" y="337.9" width="1" height="31.7" fill="#089981"/>
<rect x="502" y="345.2" width="3" height="20.8" fill="#089981"/>
<rect x="507" y="323.4" width="1" height="27.2" fill="#F23645"/>
<rect x="506" y="344.6" width="3" height="1.1" fill="#F23645"/>
<rect x="512" y="338.8" width="1" height="41.7" fill="#F23645"/>
<rect x="511" y="345.2" width="3" height="35.3" fill="#F23645"/>
<rect x="516" y="376.0" width="1" height="14.5" fill="#F23645"/>
<rect x="515" y="379.6" width="3" height="4.2" fill="#F23645"/>
<rect x="521" y="352.4" width="1" height="42.6" fill="#089981"/>
<rect x="520" y="365.1" width="3" height="18.7" fill="#089981"/>
<rect x="525" y="346.1" width="1" height="27.2" fill="#089981"/>
<rect x="524" y="347.0" width="3" height="19.9" fill="#089981"/>
<rect x="529" y="326.2" width="1" height="47.1" fill="#089981"/>
<rect x="528" y="333.4" width="3" height="14.5" fill="#089981"/>
<rect x="534" y="331.6" width="1" height="25.0" fill="#089981"/>
<rect x="533" y="333.4" width="3" height="1.1" fill="#089981"/>
<rect x="538" y="317.1" width="1" height="24.5" fill="#089981"/>
<rect x="537" y="318.6" width="3" height="15.8" fill="#089981"/>
<rect x="543" y="303.0" width="1" height="20.5" fill="#089981"/>
<rect x="542" y="309.9" width="3" height="12.3" fill="#089981"/>
<rect x="547" y="305.3" width="1" height="48.4" fill="#F23645"/>
<rect x="546" y="309.9" width="3" height="43.8" fill="#F23645"/>
<rect x="551" y="337.0" width="1" height="31.7" fill="#F23645"/>
<rect x="550" y="352.4" width="3" height="10.9" fill="#F23645"/>
<rect x="556" y="338.8" width="1" height="26.3" fill="#089981"/>
<rect x="555" y="341.6" width="3" height="22.6" fill="#089981"/>
<rect x="560" y="340.7" width="1" height="24.5" fill="#F23645"/>
<rect x="559" y="342.1" width="3" height="8.5" fill="#F23645"/>
<rect x="565" y="342.5" width="1" height="22.6" fill="#F23645"/>
<rect x="564" y="350.6" width="3" height="13.6" fill="#F23645"/>
<rect x="569" y="347.9" width="1" height="30.8" fill="#089981"/>
<rect x="568" y="361.9" width="3" height="1.0" fill="#089981"/>
<rect x="573" y="354.2" width="1" height="23.6" fill="#089981"/>
<rect x="572" y="356.6" width="3" height="5.8" fill="#089981"/>
<rect x="578" y="327.4" width="1" height="35.3" fill="#089981"/>
<rect x="577" y="329.2" width="3" height="27.2" fill="#089981"/>
<rect x="582" y="318.4" width="1" height="41.7" fill="#F23645"/>
<rect x="581" y="330.1" width="3" height="28.1" fill="#F23645"/>
<rect x="587" y="353.3" width="1" height="20.3" fill="#F23645"/>
<rect x="586" y="357.3" width="3" height="15.4" fill="#F23645"/>
<rect x="591" y="364.6" width="1" height="20.4" fill="#089981"/>
<rect x="590" y="367.3" width="3" height="5.4" fill="#089981"/>
<rect x="595" y="357.3" width="1" height="17.8" fill="#F23645"/>
<rect x="594" y="366.4" width="3" height="4.5" fill="#F23645"/>
<rect x="600" y="353.3" width="1" height="25.4" fill="#089981"/>
<rect x="599" y="354.6" width="3" height="17.2" fill="#089981"/>
<rect x="604" y="345.5" width="1" height="24.5" fill="#F23645"/>
<rect x="603" y="355.1" width="3" height="5.8" fill="#F23645"/>
<rect x="609" y="351.9" width="1" height="25.1" fill="#F23645"/>
<rect x="608" y="359.1" width="3" height="1.0" fill="#F23645"/>
<rect x="613" y="337.4" width="1" height="26.3" fill="#089981"/>
<rect x="612" y="343.7" width="3" height="17.2" fill="#089981"/>
<rect x="617" y="287.6" width="1" height="62.1" fill="#089981"/>
<rect x="616" y="289.9" width="3" height="57.4" fill="#089981"/>
<rect x="622" y="274.9" width="1" height="27.2" fill="#F23645"/>
<rect x="621" y="290.3" width="3" height="11.2" fill="#F23645"/>
<rect x="626" y="299.3" width="1" height="26.3" fill="#F23645"/>
<rect x="625" y="300.8" width="3" height="16.7" fill="#F23645"/>
<rect x="631" y="314.7" width="1" height="16.8" fill="#F23645"/>
<rect x="630" y="316.0" width="3" height="2.9" fill="#F23645"/>
<rect x="635" y="312.9" width="1" height="27.7" fill="#F23645"/>
<rect x="634" y="317.5" width="3" height="23.2" fill="#F23645"/>
<rect x="639" y="333.8" width="1" height="14.5" fill="#089981"/>
<rect x="638" y="336.5" width="3" height="4.2" fill="#089981"/>
<rect x="644" y="320.2" width="1" height="19.9" fill="#089981"/>
<rect x="643" y="322.0" width="3" height="15.4" fill="#089981"/>
<rect x="648" y="250.8" width="1" height="73.9" fill="#089981"/>
<rect x="647" y="251.9" width="3" height="70.1" fill="#089981"/>
<rect x="653" y="251.9" width="1" height="30.3" fill="#F23645"/>
<rect x="652" y="251.9" width="3" height="30.3" fill="#F23645"/>
<rect x="657" y="265.8" width="1" height="24.5" fill="#F23645"/>
<rect x="656" y="281.2" width="3" height="1.0" fill="#F23645"/>
<rect x="661" y="264.0" width="1" height="27.2" fill="#089981"/>
<rect x="660" y="264.9" width="3" height="17.2" fill="#089981"/>
<rect x="666" y="246.8" width="1" height="21.7" fill="#089981"/>
<rect x="665" y="251.9" width="3" height="13.0" fill="#089981"/>
<rect x="670" y="234.2" width="1" height="18.1" fill="#089981"/>
<rect x="669" y="242.4" width="3" height="9.1" fill="#089981"/>
<rect x="674" y="237.3" width="1" height="30.4" fill="#F23645"/>
<rect x="673" y="242.4" width="3" height="12.3" fill="#F23645"/>
<rect x="679" y="228.8" width="1" height="27.2" fill="#089981"/>
<rect x="678" y="242.4" width="3" height="12.7" fill="#089981"/>
<rect x="683" y="217.0" width="1" height="27.2" fill="#089981"/>
<rect x="682" y="218.8" width="3" height="23.6" fill="#089981"/>
<rect x="688" y="208.0" width="1" height="16.3" fill="#089981"/>
<rect x="687" y="213.4" width="3" height="8.2" fill="#089981"/>
<rect x="692" y="185.9" width="1" height="33.9" fill="#089981"/>
<rect x="691" y="193.1" width="3" height="20.3" fill="#089981"/>
<rect x="696" y="181.2" width="1" height="20.5" fill="#F23645"/>
<rect x="695" y="193.0" width="3" height="1.0" fill="#F23645"/>
<rect x="701" y="188.0" width="1" height="32.6" fill="#F23645"/>
<rect x="700" y="193.1" width="3" height="22.5" fill="#F23645"/>
<rect x="705" y="185.9" width="1" height="32.1" fill="#089981"/>
<rect x="704" y="188.0" width="3" height="28.1" fill="#089981"/>
<rect x="710" y="184.1" width="1" height="32.1" fill="#F23645"/>
<rect x="709" y="188.0" width="3" height="24.5" fill="#F23645"/>
<rect x="714" y="206.2" width="1" height="22.6" fill="#F23645"/>
<rect x="713" y="212.0" width="3" height="12.3" fill="#F23645"/>
<rect x="718" y="217.9" width="1" height="19.0" fill="#F23645"/>
<rect x="717" y="223.9" width="3" height="12.7" fill="#F23645"/>
<rect x="723" y="217.9" width="1" height="20.8" fill="#089981"/>
<rect x="722" y="225.2" width="3" height="11.8" fill="#089981"/>
<rect x="727" y="221.6" width="1" height="29.9" fill="#F23645"/>
<rect x="726" y="225.2" width="3" height="13.6" fill="#F23645"/>
<rect x="732" y="225.2" width="1" height="16.3" fill="#089981"/>
<rect x="731" y="235.1" width="3" height="3.6" fill="#089981"/>
<rect x="736" y="217.0" width="1" height="30.8" fill="#089981"/>
<rect x="735" y="231.2" width="3" height="4.0" fill="#089981"/>
<rect x="740" y="211.2" width="1" height="41.1" fill="#089981"/>
<rect x="739" y="212.5" width="3" height="19.0" fill="#089981"/>
<rect x="745" y="162.3" width="1" height="54.7" fill="#089981"/>
<rect x="744" y="168.1" width="3" height="44.9" fill="#089981"/>
<rect x="749" y="163.0" width="1" height="37.7" fill="#F23645"/>
<rect x="748" y="168.1" width="3" height="31.7" fill="#F23645"/>
<rect x="754" y="189.9" width="1" height="22.6" fill="#F23645"/>
<rect x="753" y="196.7" width="3" height="10.3" fill="#F23645"/>
<rect x="758" y="171.7" width="1" height="37.1" fill="#089981"/>
<rect x="757" y="183.0" width="3" height="25.0" fill="#089981"/>
<rect x="762" y="179.8" width="1" height="35.3" fill="#F23645"/>
<rect x="761" y="182.9" width="3" height="31.9" fill="#F23645"/>
<rect x="767" y="192.5" width="1" height="25.4" fill="#089981"/>
<rect x="766" y="194.9" width="3" height="20.3" fill="#089981"/>
<rect x="771" y="177.5" width="1" height="20.5" fill="#089981"/>
<rect x="770" y="190.1" width="3" height="6.0" fill="#089981"/>
<rect x="776" y="191.2" width="1" height="0.7" fill="#089981"/>
<rect x="775" y="191.1" width="3" height="1.0" fill="#089981"/>
<rect x="780" y="181.6" width="1" height="14.5" fill="#089981"/>
<rect x="779" y="182.5" width="3" height="12.3" fill="#089981"/>
<rect x="784" y="158.6" width="1" height="32.1" fill="#089981"/>
<rect x="783" y="159.3" width="3" height="24.1" fill="#089981"/>
<rect x="789" y="152.1" width="1" height="35.0" fill="#F23645"/>
<rect x="788" y="161.2" width="3" height="21.0" fill="#F23645"/>
<rect x="793" y="168.9" width="1" height="21.7" fill="#089981"/>
<rect x="792" y="176.2" width="3" height="5.4" fill="#089981"/>
<rect x="798" y="182.2" width="1" height="0.7" fill="#089981"/>
<rect x="797" y="182.0" width="3" height="1.0" fill="#089981"/>
<rect x="802" y="173.1" width="1" height="45.7" fill="#F23645"/>
<rect x="801" y="182.9" width="3" height="34.4" fill="#F23645"/>
<rect x="806" y="197.9" width="1" height="19.0" fill="#089981"/>
<rect x="805" y="201.6" width="3" height="15.0" fill="#089981"/>
<rect x="811" y="182.5" width="1" height="21.7" fill="#089981"/>
<rect x="810" y="196.7" width="3" height="6.7" fill="#089981"/>
<rect x="815" y="168.9" width="1" height="48.9" fill="#089981"/>
<rect x="814" y="185.3" width="3" height="11.8" fill="#089981"/>
<rect x="820" y="169.9" width="1" height="28.1" fill="#089981"/>
<rect x="819" y="174.9" width="3" height="10.9" fill="#089981"/>
<rect x="824" y="171.3" width="1" height="22.1" fill="#F23645"/>
<rect x="823" y="174.9" width="3" height="15.8" fill="#F23645"/>
<rect x="828" y="177.5" width="1" height="15.0" fill="#089981"/>
<rect x="827" y="181.1" width="3" height="9.6" fill="#089981"/>
<rect x="833" y="168.0" width="1" height="20.8" fill="#089981"/>
<rect x="832" y="173.1" width="3" height="8.5" fill="#089981"/>
<rect x="837" y="165.3" width="1" height="19.0" fill="#F23645"/>
<rect x="836" y="173.1" width="3" height="4.3" fill="#F23645"/>
<rect x="842" y="171.3" width="1" height="14.9" fill="#F23645"/>
<rect x="841" y="175.3" width="3" height="8.7" fill="#F23645"/>
<rect x="846" y="180.4" width="1" height="35.3" fill="#F23645"/>
<rect x="845" y="182.9" width="3" height="29.5" fill="#F23645"/>
<rect x="850" y="192.1" width="1" height="30.8" fill="#089981"/>
<rect x="849" y="196.3" width="3" height="16.7" fill="#089981"/>
<rect x="855" y="189.1" width="1" height="18.5" fill="#089981"/>
<rect x="854" y="191.2" width="3" height="5.4" fill="#089981"/>
<rect x="859" y="187.2" width="1" height="15.8" fill="#089981"/>
<rect x="858" y="188.5" width="3" height="1.0" fill="#089981"/>
<rect x="864" y="181.3" width="1" height="14.5" fill="#089981"/>
<rect x="863" y="187.6" width="3" height="2.7" fill="#089981"/>
<rect x="868" y="176.4" width="1" height="30.3" fill="#F23645"/>
<rect x="867" y="188.0" width="3" height="7.8" fill="#F23645"/>
<rect x="872" y="168.0" width="1" height="28.6" fill="#089981"/>
<rect x="871" y="186.2" width="3" height="9.6" fill="#089981"/>
<rect x="877" y="178.2" width="1" height="18.5" fill="#F23645"/>
<rect x="876" y="186.2" width="3" height="4.2" fill="#F23645"/>
<rect x="881" y="173.1" width="1" height="25.4" fill="#F23645"/>
<rect x="880" y="189.1" width="3" height="1.3" fill="#F23645"/>
<rect x="886" y="184.9" width="1" height="16.8" fill="#089981"/>
<rect x="885" y="188.0" width="3" height="3.3" fill="#089981"/>
<rect x="890" y="184.9" width="1" height="18.7" fill="#F23645"/>
<rect x="889" y="188.0" width="3" height="4.7" fill="#F23645"/>
<rect x="894" y="175.3" width="1" height="28.3" fill="#F23645"/>
<rect x="893" y="192.1" width="3" height="7.8" fill="#F23645"/>
<rect x="899" y="173.5" width="1" height="40.4" fill="#089981"/>
<rect x="898" y="176.4" width="3" height="23.6" fill="#089981"/>
<rect x="903" y="169.1" width="1" height="48.4" fill="#F23645"/>
<rect x="902" y="176.4" width="3" height="35.7" fill="#F23645"/>
<rect x="908" y="211.2" width="1" height="35.3" fill="#F23645"/>
<rect x="907" y="212.1" width="3" height="29.5" fill="#F23645"/>
<rect x="912" y="221.1" width="1" height="21.7" fill="#089981"/>
<rect x="911" y="222.0" width="3" height="19.6" fill="#089981"/>
<rect x="916" y="209.3" width="1" height="14.5" fill="#089981"/>
<rect x="915" y="213.9" width="3" height="9.1" fill="#089981"/>
<rect x="921" y="209.3" width="1" height="20.8" fill="#F23645"/>
<rect x="920" y="213.9" width="3" height="2.7" fill="#F23645"/>
<rect x="925" y="205.4" width="1" height="16.3" fill="#089981"/>
<rect x="924" y="213.9" width="3" height="2.7" fill="#089981"/>
<rect x="930" y="205.4" width="1" height="13.9" fill="#089981"/>
<rect x="929" y="213.2" width="3" height="1.0" fill="#089981"/>
<rect x="934" y="195.2" width="1" height="34.1" fill="#F23645"/>
<rect x="933" y="213.3" width="3" height="12.3" fill="#F23645"/>
<rect x="938" y="218.4" width="1" height="23.6" fill="#F23645"/>
<rect x="937" y="225.3" width="3" height="8.5" fill="#F23645"/>
<rect x="943" y="221.4" width="1" height="18.1" fill="#089981"/>
<rect x="942" y="222.9" width="3" height="10.9" fill="#089981"/>
<rect x="947" y="213.8" width="1" height="22.5" fill="#089981"/>
<rect x="946" y="222.4" width="3" height="1.3" fill="#089981"/>
<rect x="952" y="214.2" width="1" height="12.7" fill="#F23645"/>
<rect x="951" y="221.8" width="3" height="1.1" fill="#F23645"/>
<rect x="956" y="201.2" width="1" height="26.6" fill="#089981"/>
<rect x="955" y="213.8" width="3" height="9.8" fill="#089981"/>
<rect x="960" y="208.8" width="1" height="11.8" fill="#089981"/>
<rect x="959" y="211.5" width="3" height="2.7" fill="#089981"/>
<rect x="965" y="187.9" width="1" height="29.9" fill="#089981"/>
<rect x="964" y="203.0" width="3" height="9.4" fill="#089981"/>
<rect x="969" y="191.0" width="1" height="15.9" fill="#089981"/>
<rect x="968" y="200.1" width="3" height="3.6" fill="#089981"/>
<rect x="974" y="191.0" width="1" height="12.7" fill="#089981"/>
<rect x="973" y="196.1" width="3" height="3.6" fill="#089981"/>
<rect x="978" y="192.1" width="1" height="10.9" fill="#F23645"/>
<rect x="977" y="196.4" width="3" height="1.1" fill="#F23645"/>
<rect x="982" y="195.2" width="1" height="19.0" fill="#F23645"/>
<rect x="981" y="197.0" width="3" height="6.7" fill="#F23645"/>
<rect x="987" y="197.0" width="1" height="20.8" fill="#F23645"/>
<rect x="986" y="203.0" width="3" height="12.7" fill="#F23645"/>
<rect x="991" y="202.4" width="1" height="19.0" fill="#089981"/>
<rect x="990" y="205.1" width="3" height="10.5" fill="#089981"/>
<rect x="996" y="188.8" width="1" height="17.2" fill="#089981"/>
<rect x="995" y="193.9" width="3" height="11.2" fill="#089981"/>
<rect x="1000" y="179.8" width="1" height="19.9" fill="#089981"/>
<rect x="999" y="188.8" width="3" height="5.4" fill="#089981"/>
<rect x="1004" y="172.2" width="1" height="17.6" fill="#089981"/>
<rect x="1003" y="178.9" width="3" height="10.9" fill="#089981"/>
<rect x="1009" y="157.1" width="1" height="26.3" fill="#089981"/>
<rect x="1008" y="157.7" width="3" height="22.1" fill="#089981"/>
<rect x="1013" y="131.2" width="1" height="28.3" fill="#089981"/>
<rect x="1012" y="145.4" width="3" height="13.6" fill="#089981"/>
<rect x="1018" y="139.9" width="1" height="21.7" fill="#F23645"/>
<rect x="1017" y="141.7" width="3" height="14.5" fill="#F23645"/>
<rect x="1022" y="153.5" width="1" height="23.0" fill="#F23645"/>
<rect x="1021" y="155.9" width="3" height="6.7" fill="#F23645"/>
<rect x="1026" y="157.1" width="1" height="10.9" fill="#089981"/>
<rect x="1025" y="161.3" width="3" height="1.3" fill="#089981"/>
<rect x="1031" y="155.0" width="1" height="26.3" fill="#F23645"/>
<rect x="1030" y="160.1" width="3" height="16.3" fill="#F23645"/>
<rect x="1035" y="173.1" width="1" height="10.0" fill="#F23645"/>
<rect x="1034" y="175.3" width="3" height="5.1" fill="#F23645"/>
<rect x="1040" y="177.1" width="1" height="8.7" fill="#F23645"/>
<rect x="1039" y="180.0" width="3" height="3.1" fill="#F23645"/>
<rect x="1044" y="180.4" width="1" height="19.9" fill="#F23645"/>
<rect x="1043" y="182.5" width="3" height="1.1" fill="#F23645"/>
<rect x="1048" y="163.7" width="1" height="32.1" fill="#089981"/>
<rect x="1047" y="164.4" width="3" height="19.6" fill="#089981"/>
<rect x="1053" y="159.0" width="1" height="46.7" fill="#F23645"/>
<rect x="1052" y="165.0" width="3" height="38.9" fill="#F23645"/>
<rect x="1057" y="198.8" width="1" height="30.4" fill="#F23645"/>
<rect x="1056" y="203.0" width="3" height="19.0" fill="#F23645"/>
<rect x="1061" y="206.1" width="1" height="17.8" fill="#089981"/>
<rect x="1060" y="211.2" width="3" height="10.9" fill="#089981"/>
<rect x="1066" y="201.2" width="1" height="13.6" fill="#F23645"/>
<rect x="1065" y="210.8" width="3" height="3.1" fill="#F23645"/>
<rect x="1070" y="209.0" width="1" height="10.9" fill="#089981"/>
<rect x="1069" y="209.3" width="3" height="4.5" fill="#089981"/>
<rect x="1075" y="205.4" width="1" height="20.3" fill="#F23645"/>
<rect x="1074" y="210.3" width="3" height="4.5" fill="#F23645"/>
<rect x="1079" y="207.9" width="1" height="10.9" fill="#089981"/>
<rect x="1078" y="213.3" width="3" height="1.1" fill="#089981"/>
<rect x="1083" y="209.0" width="1" height="31.5" fill="#F23645"/>
<rect x="1082" y="213.9" width="3" height="24.1" fill="#F23645"/>
<rect x="1088" y="228.4" width="1" height="12.1" fill="#089981"/>
<rect x="1087" y="229.3" width="3" height="8.7" fill="#089981"/>
<rect x="1092" y="204.8" width="1" height="27.7" fill="#089981"/>
<rect x="1091" y="206.1" width="3" height="24.1" fill="#089981"/>
<rect x="1097" y="196.3" width="1" height="14.5" fill="#F23645"/>
<rect x="1096" y="205.7" width="3" height="4.0" fill="#F23645"/>
<rect x="1101" y="207.2" width="1" height="22.1" fill="#F23645"/>
<rect x="1100" y="208.4" width="3" height="1.0" fill="#F23645"/>
<rect x="1105" y="202.5" width="1" height="15.0" fill="#089981"/>
<rect x="1104" y="203.9" width="3" height="6.3" fill="#089981"/>
<rect x="1110" y="188.0" width="1" height="18.7" fill="#089981"/>
<rect x="1109" y="198.1" width="3" height="7.6" fill="#089981"/>
<rect x="1114" y="188.0" width="1" height="57.6" fill="#F23645"/>
<rect x="1113" y="198.1" width="3" height="42.0" fill="#F23645"/>
<rect x="1119" y="228.0" width="1" height="20.8" fill="#089981"/>
<rect x="1118" y="236.2" width="3" height="5.4" fill="#089981"/>
<rect x="1123" y="235.3" width="1" height="39.5" fill="#F23645"/>
<rect x="1122" y="235.3" width="3" height="33.5" fill="#F23645"/>
<rect x="1127" y="253.0" width="1" height="19.4" fill="#F23645"/>
<rect x="1126" y="267.9" width="3" height="1.8" fill="#F23645"/>
<rect x="1132" y="260.7" width="1" height="20.8" fill="#F23645"/>
<rect x="1131" y="269.7" width="3" height="5.4" fill="#F23645"/>
<rect x="1136" y="257.9" width="1" height="19.9" fill="#089981"/>
<rect x="1135" y="267.0" width="3" height="8.2" fill="#089981"/>
<rect x="1141" y="257.0" width="1" height="16.3" fill="#F23645"/>
<rect x="1140" y="267.9" width="3" height="4.5" fill="#F23645"/>
<rect x="1145" y="262.5" width="1" height="31.7" fill="#F23645"/>
<rect x="1144" y="271.5" width="3" height="21.7" fill="#F23645"/>
<rect x="1149" y="286.0" width="1" height="29.0" fill="#F23645"/>
<rect x="1148" y="292.4" width="3" height="7.2" fill="#F23645"/>
<rect x="1154" y="266.1" width="1" height="38.9" fill="#089981"/>
<rect x="1153" y="267.0" width="3" height="32.6" fill="#089981"/>
<rect x="1158" y="261.6" width="1" height="15.4" fill="#089981"/>
<rect x="1157" y="263.4" width="3" height="6.3" fill="#089981"/>
<rect x="1163" y="245.3" width="1" height="21.7" fill="#089981"/>
<rect x="1162" y="248.9" width="3" height="16.3" fill="#089981"/>
<rect x="1167" y="239.8" width="1" height="28.1" fill="#F23645"/>
<rect x="1166" y="248.0" width="3" height="7.6" fill="#F23645"/>
<rect x="1171" y="231.3" width="1" height="28.4" fill="#089981"/>
<rect x="1170" y="232.6" width="3" height="23.0" fill="#089981"/>
<rect x="1176" y="232.6" width="1" height="23.6" fill="#F23645"/>
<rect x="1175" y="232.6" width="3" height="23.0" fill="#F23645"/>
<rect x="1180" y="236.7" width="1" height="25.7" fill="#089981"/>
<rect x="1179" y="245.3" width="3" height="10.3" fill="#089981"/>
<rect x="1185" y="236.2" width="1" height="24.5" fill="#089981"/>
<rect x="1184" y="241.6" width="3" height="4.5" fill="#089981"/>
<rect x="1189" y="210.8" width="1" height="33.5" fill="#089981"/>
<rect x="1188" y="238.0" width="3" height="4.9" fill="#089981"/>
<rect x="1193" y="223.5" width="1" height="17.2" fill="#089981"/>
<rect x="1192" y="236.2" width="3" height="3.1" fill="#089981"/>
<rect x="1198" y="232.6" width="1" height="19.0" fill="#F23645"/>
<rect x="1197" y="233.5" width="3" height="17.2" fill="#F23645"/>
<rect x="1202" y="246.2" width="1" height="16.3" fill="#F23645"/>
<rect x="1201" y="250.1" width="3" height="3.6" fill="#F23645"/>
<rect x="1207" y="243.4" width="1" height="25.4" fill="#089981"/>
<rect x="1206" y="244.3" width="3" height="9.4" fill="#089981"/>
<rect x="1211" y="236.9" width="1" height="14.5" fill="#089981"/>
<rect x="1210" y="240.5" width="3" height="6.3" fill="#089981"/>
<rect x="1215" y="231.4" width="1" height="15.4" fill="#089981"/>
<rect x="1214" y="234.2" width="3" height="11.8" fill="#089981"/>
<rect x="1220" y="223.3" width="1" height="26.3" fill="#089981"/>
<rect x="1219" y="224.2" width="3" height="11.8" fill="#089981"/>
<rect x="1224" y="194.3" width="1" height="32.6" fill="#089981"/>
<rect x="1223" y="196.1" width="3" height="29.0" fill="#089981"/>
<rect x="1229" y="191.6" width="1" height="17.2" fill="#F23645"/>
<rect x="1228" y="196.1" width="3" height="4.5" fill="#F23645"/>
<rect x="1233" y="187.6" width="1" height="20.3" fill="#089981"/>
<rect x="1232" y="191.6" width="3" height="9.1" fill="#089981"/>
<rect x="1237" y="183.4" width="1" height="10.9" fill="#089981"/>
<rect x="1236" y="188.9" width="3" height="3.6" fill="#089981"/>
<rect x="1242" y="183.4" width="1" height="11.4" fill="#089981"/>
<rect x="1241" y="188.0" width="3" height="1.4" fill="#089981"/>
<rect x="1246" y="172.6" width="1" height="18.7" fill="#089981"/>
<rect x="1245" y="186.2" width="3" height="3.3" fill="#089981"/>
<rect x="1251" y="178.0" width="1" height="18.1" fill="#F23645"/>
<rect x="1250" y="186.2" width="3" height="7.2" fill="#F23645"/>
<rect x="1255" y="175.7" width="1" height="23.2" fill="#089981"/>
<rect x="1254" y="178.9" width="3" height="14.5" fill="#089981"/>
<rect x="1259" y="167.7" width="1" height="13.0" fill="#089981"/>
<rect x="1258" y="170.2" width="3" height="9.6" fill="#089981"/>
<rect x="1264" y="160.4" width="1" height="13.9" fill="#F23645"/>
<rect x="1263" y="170.2" width="3" height="2.9" fill="#F23645"/>
<rect x="1268" y="169.5" width="1" height="22.5" fill="#F23645"/>
<rect x="1267" y="172.0" width="3" height="19.6" fill="#F23645"/>
<rect x="1273" y="176.2" width="1" height="20.5" fill="#089981"/>
<rect x="1272" y="181.6" width="3" height="10.0" fill="#089981"/>
<rect x="1277" y="171.7" width="1" height="19.0" fill="#089981"/>
<rect x="1276" y="178.0" width="3" height="4.5" fill="#089981"/>
<rect x="1281" y="158.1" width="1" height="34.4" fill="#089981"/>
<rect x="1280" y="158.6" width="3" height="20.3" fill="#089981"/>
<rect x="1286" y="155.4" width="1" height="22.6" fill="#F23645"/>
<rect x="1285" y="158.6" width="3" height="9.4" fill="#F23645"/>
<rect x="1290" y="161.7" width="1" height="11.8" fill="#089981"/>
<rect x="1289" y="165.3" width="3" height="4.5" fill="#089981"/>
<rect x="1295" y="156.8" width="1" height="14.9" fill="#089981"/>
<rect x="1294" y="163.0" width="3" height="2.4" fill="#089981"/>
<rect x="1299" y="155.0" width="1" height="31.2" fill="#F23645"/>
<rect x="1298" y="164.1" width="3" height="21.7" fill="#F23645"/>
<rect x="1303" y="180.4" width="1" height="14.5" fill="#089981"/>
<rect x="1302" y="181.6" width="3" height="4.5" fill="#089981"/>
<rect x="1308" y="174.9" width="1" height="13.9" fill="#089981"/>
<rect x="1307" y="178.6" width="3" height="4.0" fill="#089981"/>
<rect x="1312" y="141.8" width="1" height="38.9" fill="#089981"/>
<rect x="1311" y="160.8" width="3" height="19.0" fill="#089981"/>
<rect x="1317" y="158.1" width="1" height="20.8" fill="#F23645"/>
<rect x="1316" y="160.8" width="3" height="11.8" fill="#F23645"/>
<rect x="1321" y="171.7" width="1" height="32.2" fill="#F23645"/>
<rect x="1320" y="172.0" width="3" height="24.1" fill="#F23645"/>
<rect x="1325" y="188.0" width="1" height="15.4" fill="#089981"/>
<rect x="1324" y="189.8" width="3" height="6.3" fill="#089981"/>
<rect x="1330" y="185.3" width="1" height="15.4" fill="#089981"/>
<rect x="1329" y="188.0" width="3" height="2.7" fill="#089981"/>
<rect x="1334" y="178.9" width="1" height="11.8" fill="#089981"/>
<rect x="1333" y="184.3" width="3" height="4.5" fill="#089981"/>
<rect x="1339" y="183.4" width="1" height="21.7" fill="#F23645"/>
<rect x="1338" y="184.3" width="3" height="20.3" fill="#F23645"/>
<rect x="1343" y="198.5" width="1" height="16.3" fill="#F23645"/>
<rect x="1342" y="204.3" width="3" height="4.5" fill="#F23645"/>
<rect x="1347" y="192.5" width="1" height="19.0" fill="#089981"/>
<rect x="1346" y="196.1" width="3" height="12.7" fill="#089981"/>
<rect x="1352" y="190.7" width="1" height="9.1" fill="#089981"/>
<rect x="1351" y="194.3" width="3" height="1.3" fill="#089981"/>
<rect x="1356" y="194.3" width="1" height="22.6" fill="#F23645"/>
<rect x="1355" y="194.9" width="3" height="21.2" fill="#F23645"/>
<rect x="1361" y="199.7" width="1" height="18.1" fill="#089981"/>
<rect x="1360" y="209.7" width="3" height="6.3" fill="#089981"/>
<rect x="1365" y="202.5" width="1" height="13.6" fill="#089981"/>
<rect x="1364" y="207.9" width="3" height="2.7" fill="#089981"/>
<rect x="1369" y="187.6" width="1" height="23.0" fill="#089981"/>
<rect x="1368" y="206.1" width="3" height="2.7" fill="#089981"/>
<rect x="1374" y="194.3" width="1" height="22.3" fill="#089981"/>
<rect x="1373" y="196.1" width="3" height="11.8" fill="#089981"/>
<rect x="1378" y="167.1" width="1" height="30.8" fill="#089981"/>
<rect x="1377" y="178.0" width="3" height="19.0" fill="#089981"/>
<rect x="1383" y="170.2" width="1" height="8.7" fill="#089981"/>
<rect x="1382" y="172.6" width="3" height="6.0" fill="#089981"/>
<rect x="1387" y="155.4" width="1" height="19.0" fill="#089981"/>
<rect x="1386" y="155.7" width="3" height="17.8" fill="#089981"/>
<rect x="1391" y="146.0" width="1" height="16.8" fill="#F23645"/>
<rect x="1390" y="156.2" width="3" height="2.5" fill="#F23645"/>
<rect x="1396" y="152.0" width="1" height="14.5" fill="#F23645"/>
<rect x="1395" y="158.0" width="3" height="7.6" fill="#F23645"/>
<rect x="1400" y="144.7" width="1" height="21.2" fill="#089981"/>
<rect x="1399" y="144.7" width="3" height="20.8" fill="#089981"/>
<rect x="1405" y="113.9" width="1" height="32.1" fill="#089981"/>
<rect x="1404" y="124.8" width="3" height="20.8" fill="#089981"/>
<rect x="1409" y="101.3" width="1" height="27.7" fill="#089981"/>
<rect x="1408" y="101.8" width="3" height="24.3" fill="#089981"/>
<rect x="1413" y="100.0" width="1" height="9.8" fill="#F23645"/>
<rect x="1412" y="101.8" width="3" height="7.6" fill="#F23645"/>
<rect x="1418" y="104.9" width="1" height="13.2" fill="#089981"/>
<rect x="1417" y="106.7" width="3" height="2.7" fill="#089981"/>
<rect x="1422" y="85.0" width="1" height="23.6" fill="#089981"/>
<rect x="1421" y="96.4" width="3" height="11.2" fill="#089981"/>
<rect x="1427" y="94.6" width="1" height="22.5" fill="#F23645"/>
<rect x="1426" y="95.8" width="3" height="20.8" fill="#F23645"/>
<rect x="1431" y="112.1" width="1" height="16.3" fill="#F23645"/>
<rect x="1430" y="116.3" width="3" height="9.8" fill="#F23645"/>
<rect x="1435" y="115.8" width="1" height="12.1" fill="#089981"/>
<rect x="1434" y="118.5" width="3" height="7.6" fill="#089981"/>
<rect x="1440" y="118.5" width="1" height="14.5" fill="#F23645"/>
<rect x="1439" y="118.8" width="3" height="9.1" fill="#F23645"/>
<rect x="1444" y="118.1" width="1" height="17.6" fill="#F23645"/>
<rect x="1443" y="127.0" width="3" height="1.0" fill="#F23645"/>
<rect x="1448" y="124.8" width="1" height="19.9" fill="#F23645"/>
<rect x="1447" y="126.6" width="3" height="18.1" fill="#F23645"/>
<rect x="1453" y="136.2" width="1" height="9.1" fill="#089981"/>
<rect x="1452" y="139.3" width="3" height="5.4" fill="#089981"/>
<rect x="1457" y="133.0" width="1" height="25.0" fill="#F23645"/>
<rect x="1456" y="138.8" width="3" height="2.9" fill="#F23645"/>
<rect x="1462" y="140.2" width="1" height="13.6" fill="#F23645"/>
<rect x="1461" y="140.6" width="3" height="8.7" fill="#F23645"/>
<rect x="1466" y="140.2" width="1" height="12.7" fill="#089981"/>
<rect x="1465" y="142.0" width="3" height="7.2" fill="#089981"/>
<rect x="1470" y="140.7" width="1" height="42.7" fill="#F23645"/>
<rect x="1469" y="141.9" width="3" height="40.3" fill="#F23645"/>
<rect x="1475" y="147.8" width="1" height="41.0" fill="#089981"/>
<rect x="1474" y="158.5" width="3" height="23.7" fill="#089981"/>
<rect x="1479" y="155.6" width="1" height="26.5" fill="#F23645"/>
<rect x="1478" y="158.0" width="3" height="11.1" fill="#F23645"/>
<rect x="1484" y="166.8" width="1" height="31.5" fill="#F23645"/>
<rect x="1483" y="168.0" width="3" height="29.6" fill="#F23645"/>
<rect x="1488" y="179.8" width="1" height="17.8" fill="#F23645"/>
<rect x="1487" y="195.2" width="3" height="1.2" fill="#F23645"/>
<rect x="1492" y="175.1" width="1" height="27.3" fill="#089981"/>
<rect x="1491" y="176.3" width="3" height="19.7" fill="#089981"/>
<rect x="1497" y="169.9" width="1" height="13.5" fill="#089981"/>
<rect x="1496" y="171.5" width="3" height="5.5" fill="#089981"/>
<rect x="1501" y="162.0" width="1" height="14.9" fill="#089981"/>
<rect x="1500" y="169.1" width="3" height="4.0" fill="#089981"/>
<rect x="1506" y="138.3" width="1" height="33.2" fill="#089981"/>
<rect x="1505" y="140.7" width="3" height="29.6" fill="#089981"/>
<rect x="1510" y="139.5" width="1" height="14.2" fill="#F23645"/>
<rect x="1509" y="146.2" width="3" height="6.4" fill="#F23645"/>
<rect x="1514" y="137.6" width="1" height="22.0" fill="#089981"/>
<rect x="1513" y="143.1" width="3" height="9.5" fill="#089981"/>
<rect x="1519" y="115.4" width="1" height="28.9" fill="#089981"/>
<rect x="1518" y="115.8" width="3" height="28.0" fill="#089981"/>
<rect x="1523" y="99.2" width="1" height="18.5" fill="#089981"/>
<rect x="1522" y="100.4" width="3" height="16.6" fill="#089981"/>
<rect x="1528" y="82.2" width="1" height="25.4" fill="#089981"/>
<rect x="1527" y="88.6" width="3" height="13.0" fill="#089981"/>
<rect x="1532" y="61.3" width="1" height="34.4" fill="#089981"/>
<rect x="1531" y="70.8" width="3" height="17.8" fill="#089981"/>
<rect x="1536" y="57.8" width="1" height="17.3" fill="#089981"/>
<rect x="1535" y="69.6" width="3" height="1.2" fill="#089981"/>
<rect x="1541" y="57.8" width="1" height="13.0" fill="#089981"/>
<rect x="1540" y="59.0" width="3" height="11.4" fill="#089981"/>
</g>
</g>
<rect x="238" y="53" width="1349" height="3" fill="#2962FF"/>
<line x1="13" y1="59.5" x2="1587" y2="59.5" stroke="#089981" stroke-width="1" stroke-dasharray="1 2"/>
<line x1="1148.9" y1="196.2" x2="1550.2" y2="61.8" stroke="#2962FF" stroke-width="2.5" stroke-linecap="round"/>
<line x1="1148.9" y1="315.3" x2="1550.2" y2="181.1" stroke="#2962FF" stroke-width="2.5" stroke-linecap="round"/>
<g clip-path="url(#cr)">
<polyline points="12.0,511.0 15.5,511.0 19.5,506.0 24.5,494.6 28.5,513.1 32.5,519.9 37.5,502.7 41.5,501.2 46.5,492.2 50.5,496.3 54.5,495.5 59.5,494.7 63.5,525.4 68.5,539.5 72.5,523.0 76.5,531.2 81.5,531.9 85.5,548.3 90.5,538.8 94.5,541.6 98.5,546.9 103.5,557.0 107.5,564.7 112.5,556.3 116.5,553.8 120.5,537.7 125.5,531.7 129.5,512.2 134.5,531.7 138.5,533.6 142.5,537.4 147.5,533.2 151.5,506.4 156.5,502.7 160.5,522.0 164.5,502.6 169.5,494.1 173.5,478.8 178.5,474.6 182.5,484.4 186.5,489.9 191.5,488.7 195.5,495.7 200.5,505.5 204.5,505.5 208.5,498.8 213.5,530.3 217.5,533.9 222.5,515.6 226.5,517.3 230.5,513.2 235.5,516.0 239.5,507.9 244.5,488.4 248.5,485.6 252.5,474.9 257.5,468.0 261.5,452.8 266.5,465.6 270.5,471.7 274.5,483.6 279.5,507.9 283.5,523.1 287.5,526.6 292.5,532.6 296.5,517.5 301.5,510.3 305.5,540.7 309.5,529.5 314.5,532.8 318.5,544.2 323.5,554.4 327.5,554.4 331.5,545.7 336.5,537.7 340.5,544.9 345.5,551.1 349.5,558.7 353.5,553.3 358.5,555.7 362.5,549.9 367.5,538.7 371.5,539.1 375.5,542.5 380.5,534.6 384.5,542.8 389.5,543.6 393.5,573.6 397.5,576.8 402.5,568.5 406.5,553.9 411.5,532.9 415.5,544.4 419.5,562.3 424.5,551.6 428.5,563.6 433.5,573.1 437.5,578.8 441.5,580.2 446.5,566.2 450.5,570.1 455.5,570.1 459.5,584.9 463.5,588.6 468.5,587.9 472.5,585.1 477.5,593.4 481.5,600.6 485.5,609.0 490.5,612.2 494.5,618.2 499.5,620.7 503.5,592.9 507.5,593.2 512.5,608.4 516.5,609.6 521.5,587.0 525.5,567.9 529.5,555.0 534.5,555.0 538.5,541.2 543.5,533.6 547.5,563.9 551.5,569.2 556.5,550.4 560.5,556.0 565.5,564.1 569.5,562.1 573.5,556.9 578.5,533.6 582.5,553.0 587.5,561.4 591.5,556.8 595.5,559.0 600.5,544.8 604.5,549.2 609.5,548.4 613.5,533.9 617.5,498.7 622.5,508.2 626.5,520.6 631.5,521.7 635.5,537.6 639.5,534.5 644.5,524.0 648.5,487.5 653.5,508.7 657.5,508.7 661.5,500.6 666.5,494.7 670.5,490.5 674.5,500.4 679.5,494.4 683.5,484.1 688.5,481.8 692.5,473.8 696.5,474.5 701.5,494.4 705.5,482.1 710.5,501.8 714.5,510.5 718.5,519.3 723.5,512.8 727.5,522.7 732.5,520.4 736.5,517.9 740.5,506.3 745.5,484.4 749.5,508.7 754.5,513.7 758.5,501.7 762.5,522.9 767.5,512.8 771.5,510.5 776.5,511.3 780.5,506.6 784.5,495.0 789.5,512.3 793.5,509.1 798.5,513.7 802.5,537.6 806.5,527.8 811.5,524.8 815.5,517.9 820.5,511.7 824.5,523.7 828.5,517.6 833.5,512.6 837.5,516.3 842.5,521.9 846.5,543.6 850.5,531.4 855.5,527.7 859.5,525.7 864.5,525.0 868.5,532.3 872.5,524.0 877.5,528.1 881.5,528.1 886.5,525.7 890.5,531.0 894.5,539.0 899.5,514.9 903.5,548.4 908.5,568.3 912.5,550.4 916.5,543.5 921.5,545.5 925.5,543.0 930.5,542.4 934.5,552.8 938.5,559.2 943.5,547.3 947.5,546.7 952.5,547.2 956.5,536.6 960.5,533.9 965.5,524.3 969.5,521.0 974.5,516.6 978.5,518.7 982.5,527.6 987.5,543.4 991.5,529.4 996.5,516.1 1000.5,510.6 1004.5,500.3 1009.5,482.4 1013.5,473.9 1018.5,490.3 1022.5,499.2 1026.5,498.1 1031.5,518.8 1035.5,523.8 1040.5,527.3 1044.5,528.0 1048.5,506.3 1053.5,550.0 1057.5,564.1 1061.5,552.3 1066.5,554.5 1070.5,549.3 1075.5,554.2 1079.5,552.4 1083.5,572.9 1088.5,562.0 1092.5,536.8 1097.5,540.2 1101.5,539.8 1105.5,533.8 1110.5,527.5 1114.5,565.1 1119.5,560.7 1123.5,581.5 1127.5,582.0 1132.5,585.1 1136.5,575.0 1141.5,578.6 1145.5,590.9 1149.5,594.3 1154.5,557.0 1158.5,553.4 1163.5,539.7 1167.5,545.1 1171.5,525.1 1176.5,543.4 1180.5,534.9 1185.5,531.9 1189.5,528.9 1193.5,527.3 1198.5,540.6 1202.5,543.3 1207.5,533.8 1211.5,530.0 1215.5,523.6 1220.5,514.2 1224.5,492.3 1229.5,497.8 1233.5,491.3 1237.5,489.4 1242.5,488.7 1246.5,487.3 1251.5,498.4 1255.5,486.3 1259.5,479.9 1264.5,484.5 1268.5,511.2 1273.5,502.2 1277.5,499.0 1281.5,483.8 1286.5,496.9 1290.5,494.7 1295.5,492.7 1299.5,523.0 1303.5,518.8 1308.5,515.7 1312.5,499.3 1317.5,514.4 1321.5,539.5 1325.5,533.0 1330.5,531.2 1334.5,527.3 1339.5,548.3 1343.5,552.1 1347.5,537.5 1352.5,535.4 1356.5,556.5 1361.5,549.0 1365.5,546.8 1369.5,544.5 1374.5,532.3 1378.5,513.3 1383.5,508.2 1387.5,494.0 1391.5,498.1 1396.5,507.5 1400.5,490.3 1405.5,477.2 1409.5,465.1 1413.5,475.2 1418.5,473.6 1422.5,468.0 1427.5,494.3 1431.5,505.0 1435.5,499.4 1440.5,510.2 1444.5,510.2 1448.5,528.9 1453.5,523.7 1457.5,526.3 1462.5,534.7 1466.5,526.8 1470.5,563.3 1475.5,539.9 1479.5,548.2 1484.5,567.2 1488.5,566.0 1492.5,546.9 1497.5,542.7 1501.5,540.5 1506.5,517.3 1510.5,527.5 1514.5,520.3 1519.5,502.0 1523.5,493.3 1528.5,487.0 1532.5,478.4 1536.5,477.8 1541.5,472.8" fill="none" stroke="#9C4FD0" stroke-width="1.15" stroke-linejoin="round"/>
</g>
<rect x="1470" y="466" width="93" height="39.5" fill="none" stroke="#9C27B0" stroke-width="2"/>
<path d="M12 12H1663V675H12Z M14 14V673H1661V14Z" fill="#EBECF0" fill-rule="evenodd" shape-rendering="crispEdges"/>
<rect x="14" y="430" width="1647" height="1" fill="#E0E3EB" shape-rendering="crispEdges"/>
</svg>
<div class="t" style="left:22.8px;top:25.00px;color:#2A2E39;font-size:15px;transform:scaleX(0.932);transform-origin:0 0;">GBP/USD Spot, 1D</div>
<div class="t" style="left:155.0px;top:25.00px;color:#2A2E39;font-size:15px;transform:scaleX(0.932);transform-origin:0 0;">O</div>
<div class="t" style="left:165.6px;top:25.00px;color:#089981;font-size:15px;transform:scaleX(0.932);transform-origin:0 0;">1.30913</div>
<div class="t" style="left:226.5px;top:25.00px;color:#2A2E39;font-size:15px;transform:scaleX(0.932);transform-origin:0 0;">H</div>
<div class="t" style="left:236.6px;top:25.00px;color:#089981;font-size:15px;transform:scaleX(0.932);transform-origin:0 0;">1.31313</div>
<div class="t" style="left:298.0px;top:25.00px;color:#2A2E39;font-size:15px;transform:scaleX(0.932);transform-origin:0 0;">L</div>
<div class="t" style="left:306.5px;top:25.00px;color:#089981;font-size:15px;transform:scaleX(0.932);transform-origin:0 0;">1.30888</div>
<div class="t" style="left:366.9px;top:25.00px;color:#2A2E39;font-size:15px;transform:scaleX(0.932);transform-origin:0 0;">C</div>
<div class="t" style="left:377.0px;top:25.00px;color:#089981;font-size:15px;transform:scaleX(0.932);transform-origin:0 0;">1.31281</div>
<div class="t" style="left:438.4px;top:25.68px;color:#089981;font-size:14.2px;transform:scaleX(0.995);transform-origin:0 0;">+0.00364 (+0.28%)</div>
<div class="t" style="left:22.8px;top:46.00px;color:#2A2E39;font-size:15px;transform:scaleX(0.932);transform-origin:0 0;word-spacing:1.5px;">EMA (20, close, 0)</div>
<div class="t" style="left:154.2px;top:46.00px;color:#F23672;font-size:15px;transform:scaleX(0.932);transform-origin:0 0;">1.29222</div>
<div class="t" style="left:22.8px;top:67.10px;color:#2A2E39;font-size:15px;transform:scaleX(0.932);transform-origin:0 0;word-spacing:1.5px;">EMA (50, close, 0)</div>
<div class="t" style="left:154.2px;top:67.10px;color:#7B1FA2;font-size:15px;transform:scaleX(0.932);transform-origin:0 0;">1.28436</div>
<div class="t" style="left:22.8px;top:87.90px;color:#2A2E39;font-size:15px;transform:scaleX(0.932);transform-origin:0 0;word-spacing:1.5px;">EMA (200, close, 0)</div>
<div class="t" style="left:162.1px;top:87.90px;color:#1E4BD2;font-size:15px;transform:scaleX(0.932);transform-origin:0 0;">1.26895</div>
<div class="t" style="left:23.6px;top:442.90px;color:#2A2E39;font-size:15px;transform:scaleX(0.89);transform-origin:0 0;word-spacing:1px;">RSI (14)</div>
<div class="t" style="left:84.0px;top:442.90px;color:#9C4FD0;font-size:15px;transform:scaleX(0.97);transform-origin:0 0;">72.30</div>
<div class="t" style="left:750.2px;top:86.55px;color:#E91E63;font-size:29px;">Two-Year High</div>
<div class="t" style="left:1256.2px;top:317.08px;color:#E91E63;font-size:29.2px;letter-spacing:-0.1px;">Rising Channel</div>
<div class="t" style="left:1598.0px;top:91.30px;color:#2A2E39;font-size:15px;transform:scaleX(0.945);transform-origin:0 0;">1.30000</div>
<div class="t" style="left:1598.0px;top:152.40px;color:#2A2E39;font-size:15px;transform:scaleX(0.945);transform-origin:0 0;">1.28000</div>
<div class="t" style="left:1598.0px;top:214.00px;color:#2A2E39;font-size:15px;transform:scaleX(0.945);transform-origin:0 0;">1.26000</div>
<div class="t" style="left:1598.0px;top:275.60px;color:#2A2E39;font-size:15px;transform:scaleX(0.945);transform-origin:0 0;">1.24000</div>
<div class="t" style="left:1598.0px;top:337.20px;color:#2A2E39;font-size:15px;transform:scaleX(0.945);transform-origin:0 0;">1.22000</div>
<div class="t" style="left:1598.0px;top:399.30px;color:#2A2E39;font-size:15px;transform:scaleX(0.945);transform-origin:0 0;">1.20000</div>
<div class="t" style="left:1598.0px;top:440.50px;color:#2A2E39;font-size:15px;transform:scaleX(0.96);transform-origin:0 0;">80.00</div>
<div class="t" style="left:1598.0px;top:496.70px;color:#2A2E39;font-size:15px;transform:scaleX(0.96);transform-origin:0 0;">60.00</div>
<div class="t" style="left:1598.0px;top:553.10px;color:#2A2E39;font-size:15px;transform:scaleX(0.96);transform-origin:0 0;">40.00</div>
<div class="t" style="left:1598.0px;top:609.30px;color:#2A2E39;font-size:15px;transform:scaleX(0.96);transform-origin:0 0;">20.00</div>
<div class="lb" style="top:28px;height:21px;width:70px;background:#2962FF"></div>
<div class="t" style="left:1598.0px;top:31.10px;color:#ffffff;font-size:15px;transform:scaleX(0.925);transform-origin:0 0;-webkit-text-stroke:0.2px #ffffff;">1.31441</div>
<div class="lb" style="top:49px;height:21px;width:70px;background:#089981"></div>
<div class="t" style="left:1598.0px;top:51.90px;color:#ffffff;font-size:15px;transform:scaleX(0.925);transform-origin:0 0;-webkit-text-stroke:0.2px #ffffff;">1.31281</div>
<div class="lb" style="top:113px;height:21px;width:70px;background:#EC407A"></div>
<div class="t" style="left:1598.0px;top:116.20px;color:#ffffff;font-size:15px;transform:scaleX(0.925);transform-origin:0 0;-webkit-text-stroke:0.2px #ffffff;">1.29222</div>
<div class="lb" style="top:137px;height:21px;width:70px;background:#7B1FA2"></div>
<div class="t" style="left:1598.0px;top:140.20px;color:#ffffff;font-size:15px;transform:scaleX(0.925);transform-origin:0 0;-webkit-text-stroke:0.2px #ffffff;">1.28436</div>
<div class="lb" style="top:184px;height:21px;width:70px;background:#1E4BD2"></div>
<div class="t" style="left:1598.0px;top:187.20px;color:#ffffff;font-size:15px;transform:scaleX(0.925);transform-origin:0 0;-webkit-text-stroke:0.2px #ffffff;">1.26895</div>
<div class="lb" style="top:459px;height:21px;width:54px;background:#9C4FD0"></div>
<div class="t" style="left:1598.0px;top:462.20px;color:#ffffff;font-size:15px;transform:scaleX(0.952);transform-origin:0 0;-webkit-text-stroke:0.2px #ffffff;">72.30</div>
<div class="t" style="left:88.7px;width:80px;text-align:center;top:649.10px;font-size:15px;color:#2A2E39;transform:scaleX(0.93);transform-origin:40px 0;">Jun</div>
<div class="t" style="left:277.7px;width:80px;text-align:center;top:649.10px;font-size:15px;color:#2A2E39;transform:scaleX(0.93);transform-origin:40px 0;">Aug</div>
<div class="t" style="left:378.7px;width:80px;text-align:center;top:649.10px;font-size:15px;color:#2A2E39;transform:scaleX(0.93);transform-origin:40px 0;">Sep</div>
<div class="t" style="left:568.7px;width:80px;text-align:center;top:649.10px;font-size:15px;color:#2A2E39;transform:scaleX(0.93);transform-origin:40px 0;">Nov</div>
<div class="t" style="left:757.7px;width:80px;text-align:center;top:649.10px;font-size:15px;color:#2A2E39;transform:scaleX(0.93);transform-origin:40px 0;font-weight:bold;">2024</div>
<div class="t" style="left:858.7px;width:80px;text-align:center;top:649.10px;font-size:15px;color:#2A2E39;transform:scaleX(0.93);transform-origin:40px 0;">Feb</div>
<div class="t" style="left:1042.7px;width:80px;text-align:center;top:649.10px;font-size:15px;color:#2A2E39;transform:scaleX(0.93);transform-origin:40px 0;">Apr</div>
<div class="t" style="left:1240.7px;width:80px;text-align:center;top:649.10px;font-size:15px;color:#2A2E39;transform:scaleX(0.93);transform-origin:40px 0;">Jun</div>
<div class="t" style="left:1429.7px;width:80px;text-align:center;top:649.10px;font-size:15px;color:#2A2E39;transform:scaleX(0.93);transform-origin:40px 0;">Aug</div>
<div class="t" style="left:1531.7px;width:80px;text-align:center;top:649.10px;font-size:15px;color:#2A2E39;transform:scaleX(0.93);transform-origin:40px 0;">Sep</div>
<svg style="position:absolute;left:0;top:0" width="60" height="718" viewBox="0 0 60 718"><path d="M13.06 689.9H22.67V701.7H18.08V693.9H13.06Z M32.0 689.9H37.16L32.6 701.7H27.1Z" fill="#131722"/><circle cx="26.85" cy="692.4" r="2.65" fill="#131722"/></svg>
<div class="t" style="left:42.5px;top:688.99px;color:#2A2E39;font-size:14.9px;letter-spacing:0.45px;">TradingView</div>
</body></html>
